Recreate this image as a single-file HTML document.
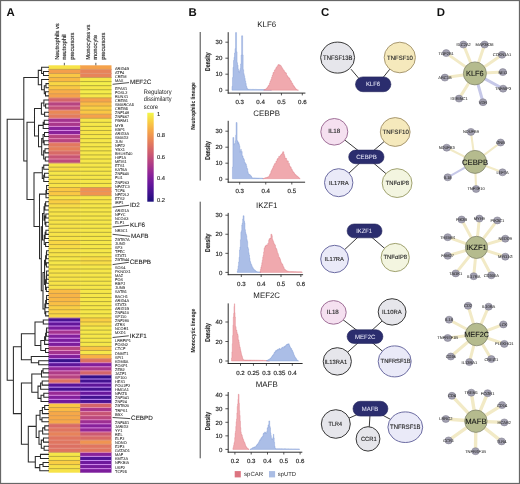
<!DOCTYPE html>
<html><head><meta charset="utf-8"><title>Figure</title>
<style>html,body{margin:0;padding:0;background:#fff;overflow:hidden;width:520px;height:484px;}svg{display:block;}
text{font-family:"Liberation Sans", sans-serif;text-rendering:geometricPrecision;}svg{will-change:transform;}</style></head>
<body><svg width="520" height="484" viewBox="0 0 520 484" font-family='"Liberation Sans", sans-serif'>
<rect x="0" y="0" width="520" height="484" fill="#fff"/>
<g id="heat">
<rect x="48.5" y="65.30" width="32.30" height="4.37" fill="#f7e348"/>
<rect x="80.2" y="65.30" width="31.30" height="4.37" fill="#f5a24b"/>
<rect x="48.5" y="69.37" width="32.30" height="4.37" fill="#f49f4c"/>
<rect x="80.2" y="69.37" width="31.30" height="4.37" fill="#e7835a"/>
<rect x="48.5" y="73.45" width="32.30" height="4.37" fill="#fac744"/>
<rect x="80.2" y="73.45" width="31.30" height="4.37" fill="#e7835a"/>
<rect x="48.5" y="77.52" width="32.30" height="4.37" fill="#f9b845"/>
<rect x="80.2" y="77.52" width="31.30" height="4.37" fill="#f6e749"/>
<rect x="48.5" y="81.60" width="32.30" height="4.37" fill="#f9d745"/>
<rect x="80.2" y="81.60" width="31.30" height="4.37" fill="#f4ef4b"/>
<rect x="48.5" y="85.67" width="32.30" height="4.37" fill="#fac744"/>
<rect x="80.2" y="85.67" width="31.30" height="4.37" fill="#f6e749"/>
<rect x="48.5" y="89.74" width="32.30" height="4.37" fill="#f8ad48"/>
<rect x="80.2" y="89.74" width="31.30" height="4.37" fill="#f5ec4b"/>
<rect x="48.5" y="93.82" width="32.30" height="4.37" fill="#f5a24b"/>
<rect x="80.2" y="93.82" width="31.30" height="4.37" fill="#f6e749"/>
<rect x="48.5" y="97.89" width="32.30" height="4.37" fill="#d4656a"/>
<rect x="80.2" y="97.89" width="31.30" height="4.37" fill="#f5a24b"/>
<rect x="48.5" y="101.97" width="32.30" height="4.37" fill="#b64481"/>
<rect x="80.2" y="101.97" width="31.30" height="4.37" fill="#fabb45"/>
<rect x="48.5" y="106.04" width="32.30" height="4.37" fill="#c35078"/>
<rect x="80.2" y="106.04" width="31.30" height="4.37" fill="#f9ce44"/>
<rect x="48.5" y="110.11" width="32.30" height="4.37" fill="#ea8856"/>
<rect x="80.2" y="110.11" width="31.30" height="4.37" fill="#fac744"/>
<rect x="48.5" y="114.19" width="32.30" height="4.37" fill="#e37b5d"/>
<rect x="80.2" y="114.19" width="31.30" height="4.37" fill="#f5a24b"/>
<rect x="48.5" y="118.26" width="32.30" height="4.37" fill="#a3338e"/>
<rect x="80.2" y="118.26" width="31.30" height="4.37" fill="#f6e749"/>
<rect x="48.5" y="122.34" width="32.30" height="4.37" fill="#a9378b"/>
<rect x="80.2" y="122.34" width="31.30" height="4.37" fill="#f6e749"/>
<rect x="48.5" y="126.41" width="32.30" height="4.37" fill="#89229a"/>
<rect x="80.2" y="126.41" width="31.30" height="4.37" fill="#f6e749"/>
<rect x="48.5" y="130.48" width="32.30" height="4.37" fill="#89229a"/>
<rect x="80.2" y="130.48" width="31.30" height="4.37" fill="#f7e348"/>
<rect x="48.5" y="134.56" width="32.30" height="4.37" fill="#b64481"/>
<rect x="80.2" y="134.56" width="31.30" height="4.37" fill="#f6e749"/>
<rect x="48.5" y="138.63" width="32.30" height="4.37" fill="#b64481"/>
<rect x="80.2" y="138.63" width="31.30" height="4.37" fill="#f6e749"/>
<rect x="48.5" y="142.71" width="32.30" height="4.37" fill="#e2795f"/>
<rect x="80.2" y="142.71" width="31.30" height="4.37" fill="#f6e749"/>
<rect x="48.5" y="146.78" width="32.30" height="4.37" fill="#e57f5b"/>
<rect x="80.2" y="146.78" width="31.30" height="4.37" fill="#f6e749"/>
<rect x="48.5" y="150.85" width="32.30" height="4.37" fill="#d86a67"/>
<rect x="80.2" y="150.85" width="31.30" height="4.37" fill="#f6e749"/>
<rect x="48.5" y="154.93" width="32.30" height="4.37" fill="#c75574"/>
<rect x="80.2" y="154.93" width="31.30" height="4.37" fill="#f6e749"/>
<rect x="48.5" y="159.00" width="32.30" height="4.37" fill="#bd4b7c"/>
<rect x="80.2" y="159.00" width="31.30" height="4.37" fill="#f6e749"/>
<rect x="48.5" y="163.08" width="32.30" height="4.37" fill="#f7e348"/>
<rect x="80.2" y="163.08" width="31.30" height="4.37" fill="#f6e749"/>
<rect x="48.5" y="167.15" width="32.30" height="4.37" fill="#f8dc46"/>
<rect x="80.2" y="167.15" width="31.30" height="4.37" fill="#f6e749"/>
<rect x="48.5" y="171.22" width="32.30" height="4.37" fill="#f6e749"/>
<rect x="80.2" y="171.22" width="31.30" height="4.37" fill="#f6e749"/>
<rect x="48.5" y="175.30" width="32.30" height="4.37" fill="#f7e348"/>
<rect x="80.2" y="175.30" width="31.30" height="4.37" fill="#f6e749"/>
<rect x="48.5" y="179.37" width="32.30" height="4.37" fill="#f7df47"/>
<rect x="80.2" y="179.37" width="31.30" height="4.37" fill="#f6e749"/>
<rect x="48.5" y="183.45" width="32.30" height="4.37" fill="#f7e348"/>
<rect x="80.2" y="183.45" width="31.30" height="4.37" fill="#f6e749"/>
<rect x="48.5" y="187.52" width="32.30" height="4.37" fill="#fac744"/>
<rect x="80.2" y="187.52" width="31.30" height="4.37" fill="#ef9152"/>
<rect x="48.5" y="191.59" width="32.30" height="4.37" fill="#fac744"/>
<rect x="80.2" y="191.59" width="31.30" height="4.37" fill="#f09451"/>
<rect x="48.5" y="195.67" width="32.30" height="4.37" fill="#f7e348"/>
<rect x="80.2" y="195.67" width="31.30" height="4.37" fill="#f6e749"/>
<rect x="48.5" y="199.74" width="32.30" height="4.37" fill="#f9ce44"/>
<rect x="80.2" y="199.74" width="31.30" height="4.37" fill="#f7e348"/>
<rect x="48.5" y="203.82" width="32.30" height="4.37" fill="#f8dc46"/>
<rect x="80.2" y="203.82" width="31.30" height="4.37" fill="#f6e749"/>
<rect x="48.5" y="207.89" width="32.30" height="4.37" fill="#f7e348"/>
<rect x="80.2" y="207.89" width="31.30" height="4.37" fill="#f6e749"/>
<rect x="48.5" y="211.96" width="32.30" height="4.37" fill="#f7e348"/>
<rect x="80.2" y="211.96" width="31.30" height="4.37" fill="#f6e749"/>
<rect x="48.5" y="216.04" width="32.30" height="4.37" fill="#f7e348"/>
<rect x="80.2" y="216.04" width="31.30" height="4.37" fill="#f6e749"/>
<rect x="48.5" y="220.11" width="32.30" height="4.37" fill="#f7e348"/>
<rect x="80.2" y="220.11" width="31.30" height="4.37" fill="#f6e749"/>
<rect x="48.5" y="224.19" width="32.30" height="4.37" fill="#f7e348"/>
<rect x="80.2" y="224.19" width="31.30" height="4.37" fill="#f6e749"/>
<rect x="48.5" y="228.26" width="32.30" height="4.37" fill="#f7e348"/>
<rect x="80.2" y="228.26" width="31.30" height="4.37" fill="#f6e749"/>
<rect x="48.5" y="232.33" width="32.30" height="4.37" fill="#f7e348"/>
<rect x="80.2" y="232.33" width="31.30" height="4.37" fill="#f6e749"/>
<rect x="48.5" y="236.41" width="32.30" height="4.37" fill="#f7e348"/>
<rect x="80.2" y="236.41" width="31.30" height="4.37" fill="#f6e749"/>
<rect x="48.5" y="240.48" width="32.30" height="4.37" fill="#f9d745"/>
<rect x="80.2" y="240.48" width="31.30" height="4.37" fill="#f6e749"/>
<rect x="48.5" y="244.56" width="32.30" height="4.37" fill="#f8dc46"/>
<rect x="80.2" y="244.56" width="31.30" height="4.37" fill="#f6e749"/>
<rect x="48.5" y="248.63" width="32.30" height="4.37" fill="#f7e348"/>
<rect x="80.2" y="248.63" width="31.30" height="4.37" fill="#f6e749"/>
<rect x="48.5" y="252.70" width="32.30" height="4.37" fill="#f7e348"/>
<rect x="80.2" y="252.70" width="31.30" height="4.37" fill="#f6e749"/>
<rect x="48.5" y="256.78" width="32.30" height="4.37" fill="#f6e749"/>
<rect x="80.2" y="256.78" width="31.30" height="4.37" fill="#f8dd47"/>
<rect x="48.5" y="260.85" width="32.30" height="4.37" fill="#f6e749"/>
<rect x="80.2" y="260.85" width="31.30" height="4.37" fill="#f8dd47"/>
<rect x="48.5" y="264.93" width="32.30" height="4.37" fill="#f7e348"/>
<rect x="80.2" y="264.93" width="31.30" height="4.37" fill="#f6e749"/>
<rect x="48.5" y="269.00" width="32.30" height="4.37" fill="#f7e348"/>
<rect x="80.2" y="269.00" width="31.30" height="4.37" fill="#f6e749"/>
<rect x="48.5" y="273.07" width="32.30" height="4.37" fill="#f7e348"/>
<rect x="80.2" y="273.07" width="31.30" height="4.37" fill="#f6e749"/>
<rect x="48.5" y="277.15" width="32.30" height="4.37" fill="#f7e348"/>
<rect x="80.2" y="277.15" width="31.30" height="4.37" fill="#f6e749"/>
<rect x="48.5" y="281.22" width="32.30" height="4.37" fill="#f7e348"/>
<rect x="80.2" y="281.22" width="31.30" height="4.37" fill="#f6e749"/>
<rect x="48.5" y="285.30" width="32.30" height="4.37" fill="#f7e348"/>
<rect x="80.2" y="285.30" width="31.30" height="4.37" fill="#f6e749"/>
<rect x="48.5" y="289.37" width="32.30" height="4.37" fill="#fabb45"/>
<rect x="80.2" y="289.37" width="31.30" height="4.37" fill="#f6e749"/>
<rect x="48.5" y="293.44" width="32.30" height="4.37" fill="#f8b446"/>
<rect x="80.2" y="293.44" width="31.30" height="4.37" fill="#f6e749"/>
<rect x="48.5" y="297.52" width="32.30" height="4.37" fill="#f9b845"/>
<rect x="80.2" y="297.52" width="31.30" height="4.37" fill="#f6e749"/>
<rect x="48.5" y="301.59" width="32.30" height="4.37" fill="#fabf45"/>
<rect x="80.2" y="301.59" width="31.30" height="4.37" fill="#f6e749"/>
<rect x="48.5" y="305.67" width="32.30" height="4.37" fill="#f9ce44"/>
<rect x="80.2" y="305.67" width="31.30" height="4.37" fill="#f6e749"/>
<rect x="48.5" y="309.74" width="32.30" height="4.37" fill="#fad245"/>
<rect x="80.2" y="309.74" width="31.30" height="4.37" fill="#f6e749"/>
<rect x="48.5" y="313.81" width="32.30" height="4.37" fill="#f9d745"/>
<rect x="80.2" y="313.81" width="31.30" height="4.37" fill="#f6e749"/>
<rect x="48.5" y="317.89" width="32.30" height="4.37" fill="#4a1393"/>
<rect x="80.2" y="317.89" width="31.30" height="4.37" fill="#f9ce44"/>
<rect x="48.5" y="321.96" width="32.30" height="4.37" fill="#61159a"/>
<rect x="80.2" y="321.96" width="31.30" height="4.37" fill="#f8dc46"/>
<rect x="48.5" y="326.04" width="32.30" height="4.37" fill="#791c9d"/>
<rect x="80.2" y="326.04" width="31.30" height="4.37" fill="#f6e749"/>
<rect x="48.5" y="330.11" width="32.30" height="4.37" fill="#a3338e"/>
<rect x="80.2" y="330.11" width="31.30" height="4.37" fill="#f6e749"/>
<rect x="48.5" y="334.18" width="32.30" height="4.37" fill="#821f9c"/>
<rect x="80.2" y="334.18" width="31.30" height="4.37" fill="#f6e749"/>
<rect x="48.5" y="338.26" width="32.30" height="4.37" fill="#791c9d"/>
<rect x="80.2" y="338.26" width="31.30" height="4.37" fill="#f6e749"/>
<rect x="48.5" y="342.33" width="32.30" height="4.37" fill="#7c1d9c"/>
<rect x="80.2" y="342.33" width="31.30" height="4.37" fill="#f6e749"/>
<rect x="48.5" y="346.41" width="32.30" height="4.37" fill="#b64481"/>
<rect x="80.2" y="346.41" width="31.30" height="4.37" fill="#f9c345"/>
<rect x="48.5" y="350.48" width="32.30" height="4.37" fill="#a3338e"/>
<rect x="80.2" y="350.48" width="31.30" height="4.37" fill="#f6e749"/>
<rect x="48.5" y="354.55" width="32.30" height="4.37" fill="#811e9b"/>
<rect x="80.2" y="354.55" width="31.30" height="4.37" fill="#f8b047"/>
<rect x="48.5" y="358.63" width="32.30" height="4.37" fill="#37118a"/>
<rect x="80.2" y="358.63" width="31.30" height="4.37" fill="#dc7063"/>
<rect x="48.5" y="362.70" width="32.30" height="4.37" fill="#5d1599"/>
<rect x="80.2" y="362.70" width="31.30" height="4.37" fill="#821f9c"/>
<rect x="48.5" y="366.78" width="32.30" height="4.37" fill="#8f2698"/>
<rect x="80.2" y="366.78" width="31.30" height="4.37" fill="#a9378b"/>
<rect x="48.5" y="370.85" width="32.30" height="4.37" fill="#ae3c87"/>
<rect x="80.2" y="370.85" width="31.30" height="4.37" fill="#d4656a"/>
<rect x="48.5" y="374.92" width="32.30" height="4.37" fill="#b64481"/>
<rect x="80.2" y="374.92" width="31.30" height="4.37" fill="#341089"/>
<rect x="48.5" y="379.00" width="32.30" height="4.37" fill="#df7462"/>
<rect x="80.2" y="379.00" width="31.30" height="4.37" fill="#431290"/>
<rect x="48.5" y="383.07" width="32.30" height="4.37" fill="#581498"/>
<rect x="80.2" y="383.07" width="31.30" height="4.37" fill="#5d1599"/>
<rect x="48.5" y="387.15" width="32.30" height="4.37" fill="#431290"/>
<rect x="80.2" y="387.15" width="31.30" height="4.37" fill="#431290"/>
<rect x="48.5" y="391.22" width="32.30" height="4.37" fill="#972a95"/>
<rect x="80.2" y="391.22" width="31.30" height="4.37" fill="#67179c"/>
<rect x="48.5" y="395.29" width="32.30" height="4.37" fill="#821f9c"/>
<rect x="80.2" y="395.29" width="31.30" height="4.37" fill="#431290"/>
<rect x="48.5" y="399.37" width="32.30" height="4.37" fill="#71199c"/>
<rect x="80.2" y="399.37" width="31.30" height="4.37" fill="#4a1393"/>
<rect x="48.5" y="403.44" width="32.30" height="4.37" fill="#fac744"/>
<rect x="80.2" y="403.44" width="31.30" height="4.37" fill="#d4656a"/>
<rect x="48.5" y="407.52" width="32.30" height="4.37" fill="#fabb45"/>
<rect x="80.2" y="407.52" width="31.30" height="4.37" fill="#a9378b"/>
<rect x="48.5" y="411.59" width="32.30" height="4.37" fill="#f6a849"/>
<rect x="80.2" y="411.59" width="31.30" height="4.37" fill="#c75574"/>
<rect x="48.5" y="415.66" width="32.30" height="4.37" fill="#f6a849"/>
<rect x="80.2" y="415.66" width="31.30" height="4.37" fill="#bb487d"/>
<rect x="48.5" y="419.74" width="32.30" height="4.37" fill="#f6a849"/>
<rect x="80.2" y="419.74" width="31.30" height="4.37" fill="#9d2f92"/>
<rect x="48.5" y="423.81" width="32.30" height="4.37" fill="#d86a67"/>
<rect x="80.2" y="423.81" width="31.30" height="4.37" fill="#87219b"/>
<rect x="48.5" y="427.89" width="32.30" height="4.37" fill="#e07560"/>
<rect x="80.2" y="427.89" width="31.30" height="4.37" fill="#932896"/>
<rect x="48.5" y="431.96" width="32.30" height="4.37" fill="#e7835a"/>
<rect x="80.2" y="431.96" width="31.30" height="4.37" fill="#cc5b71"/>
<rect x="48.5" y="436.03" width="32.30" height="4.37" fill="#e07560"/>
<rect x="80.2" y="436.03" width="31.30" height="4.37" fill="#d86a67"/>
<rect x="48.5" y="440.11" width="32.30" height="4.37" fill="#e07560"/>
<rect x="80.2" y="440.11" width="31.30" height="4.37" fill="#f09451"/>
<rect x="48.5" y="444.18" width="32.30" height="4.37" fill="#dc7063"/>
<rect x="80.2" y="444.18" width="31.30" height="4.37" fill="#e07560"/>
<rect x="48.5" y="448.26" width="32.30" height="4.37" fill="#df7462"/>
<rect x="80.2" y="448.26" width="31.30" height="4.37" fill="#e07560"/>
<rect x="48.5" y="452.33" width="32.30" height="4.37" fill="#f6e749"/>
<rect x="80.2" y="452.33" width="31.30" height="4.37" fill="#89229a"/>
<rect x="48.5" y="456.40" width="32.30" height="4.37" fill="#f7e348"/>
<rect x="80.2" y="456.40" width="31.30" height="4.37" fill="#511396"/>
<rect x="48.5" y="460.48" width="32.30" height="4.37" fill="#f9ce44"/>
<rect x="80.2" y="460.48" width="31.30" height="4.37" fill="#6e199c"/>
<rect x="48.5" y="464.55" width="32.30" height="4.37" fill="#f7df47"/>
<rect x="80.2" y="464.55" width="31.30" height="4.37" fill="#761b9c"/>
<rect x="48.5" y="468.63" width="32.30" height="4.07" fill="#f7e348"/>
<rect x="80.2" y="468.63" width="31.30" height="4.07" fill="#7c1d9c"/>
<line x1="48.50" y1="69.37" x2="80.20" y2="69.37" stroke="#c8a04c" stroke-width="1.0" />
<line x1="80.20" y1="69.37" x2="111.50" y2="69.37" stroke="#dd9666" stroke-width="1.0" />
<line x1="48.50" y1="73.45" x2="80.20" y2="73.45" stroke="#d09c51" stroke-width="1.0" />
<line x1="80.20" y1="73.45" x2="111.50" y2="73.45" stroke="#e19373" stroke-width="1.0" />
<line x1="48.50" y1="77.52" x2="80.20" y2="77.52" stroke="#cb9f49" stroke-width="1.0" />
<line x1="80.20" y1="77.52" x2="111.50" y2="77.52" stroke="#cb9e58" stroke-width="1.0" />
<line x1="48.50" y1="81.60" x2="80.20" y2="81.60" stroke="#c6a146" stroke-width="1.0" />
<line x1="80.20" y1="81.60" x2="111.50" y2="81.60" stroke="#b1a939" stroke-width="1.0" />
<line x1="48.50" y1="85.67" x2="80.20" y2="85.67" stroke="#c3a342" stroke-width="1.0" />
<line x1="80.20" y1="85.67" x2="111.50" y2="85.67" stroke="#b1a939" stroke-width="1.0" />
<line x1="48.50" y1="89.74" x2="80.20" y2="89.74" stroke="#ce9e4c" stroke-width="1.0" />
<line x1="80.20" y1="89.74" x2="111.50" y2="89.74" stroke="#b2a93a" stroke-width="1.0" />
<line x1="48.50" y1="93.82" x2="80.20" y2="93.82" stroke="#d69a56" stroke-width="1.0" />
<line x1="80.20" y1="93.82" x2="111.50" y2="93.82" stroke="#b2a93a" stroke-width="1.0" />
<line x1="48.50" y1="97.89" x2="80.20" y2="97.89" stroke="#df9375" stroke-width="1.0" />
<line x1="80.20" y1="97.89" x2="111.50" y2="97.89" stroke="#c6a14b" stroke-width="1.0" />
<line x1="48.50" y1="101.97" x2="80.20" y2="101.97" stroke="#e48ca2" stroke-width="1.0" />
<line x1="80.20" y1="101.97" x2="111.50" y2="101.97" stroke="#d39b52" stroke-width="1.0" />
<line x1="48.50" y1="106.04" x2="80.20" y2="106.04" stroke="#e48bad" stroke-width="1.0" />
<line x1="80.20" y1="106.04" x2="111.50" y2="106.04" stroke="#c8a047" stroke-width="1.0" />
<line x1="48.50" y1="110.11" x2="80.20" y2="110.11" stroke="#e38f8a" stroke-width="1.0" />
<line x1="80.20" y1="110.11" x2="111.50" y2="110.11" stroke="#c5a244" stroke-width="1.0" />
<line x1="48.50" y1="114.19" x2="80.20" y2="114.19" stroke="#e19273" stroke-width="1.0" />
<line x1="80.20" y1="114.19" x2="111.50" y2="114.19" stroke="#d09d50" stroke-width="1.0" />
<line x1="48.50" y1="118.26" x2="80.20" y2="118.26" stroke="#e38da2" stroke-width="1.0" />
<line x1="80.20" y1="118.26" x2="111.50" y2="118.26" stroke="#c6a14b" stroke-width="1.0" />
<line x1="48.50" y1="122.34" x2="80.20" y2="122.34" stroke="#e089c8" stroke-width="1.0" />
<line x1="80.20" y1="122.34" x2="111.50" y2="122.34" stroke="#b3a83a" stroke-width="1.0" />
<line x1="48.50" y1="126.41" x2="80.20" y2="126.41" stroke="#dc8ad3" stroke-width="1.0" />
<line x1="80.20" y1="126.41" x2="111.50" y2="126.41" stroke="#b3a83a" stroke-width="1.0" />
<line x1="48.50" y1="130.48" x2="80.20" y2="130.48" stroke="#d78ae1" stroke-width="1.0" />
<line x1="80.20" y1="130.48" x2="111.50" y2="130.48" stroke="#b5a83b" stroke-width="1.0" />
<line x1="48.50" y1="134.56" x2="80.20" y2="134.56" stroke="#de8acb" stroke-width="1.0" />
<line x1="80.20" y1="134.56" x2="111.50" y2="134.56" stroke="#b5a83b" stroke-width="1.0" />
<line x1="48.50" y1="138.63" x2="80.20" y2="138.63" stroke="#e38bb5" stroke-width="1.0" />
<line x1="80.20" y1="138.63" x2="111.50" y2="138.63" stroke="#b3a83a" stroke-width="1.0" />
<line x1="48.50" y1="142.71" x2="80.20" y2="142.71" stroke="#e48e98" stroke-width="1.0" />
<line x1="80.20" y1="142.71" x2="111.50" y2="142.71" stroke="#b3a83a" stroke-width="1.0" />
<line x1="48.50" y1="146.78" x2="80.20" y2="146.78" stroke="#e29178" stroke-width="1.0" />
<line x1="80.20" y1="146.78" x2="111.50" y2="146.78" stroke="#b3a83a" stroke-width="1.0" />
<line x1="48.50" y1="150.85" x2="80.20" y2="150.85" stroke="#e39080" stroke-width="1.0" />
<line x1="80.20" y1="150.85" x2="111.50" y2="150.85" stroke="#b3a83a" stroke-width="1.0" />
<line x1="48.50" y1="154.93" x2="80.20" y2="154.93" stroke="#e58d95" stroke-width="1.0" />
<line x1="80.20" y1="154.93" x2="111.50" y2="154.93" stroke="#b3a83a" stroke-width="1.0" />
<line x1="48.50" y1="159.00" x2="80.20" y2="159.00" stroke="#e48ca6" stroke-width="1.0" />
<line x1="80.20" y1="159.00" x2="111.50" y2="159.00" stroke="#b3a83a" stroke-width="1.0" />
<line x1="48.50" y1="163.08" x2="80.20" y2="163.08" stroke="#d09b77" stroke-width="1.0" />
<line x1="80.20" y1="163.08" x2="111.50" y2="163.08" stroke="#b3a83a" stroke-width="1.0" />
<line x1="48.50" y1="167.15" x2="80.20" y2="167.15" stroke="#b8a63c" stroke-width="1.0" />
<line x1="80.20" y1="167.15" x2="111.50" y2="167.15" stroke="#b3a83a" stroke-width="1.0" />
<line x1="48.50" y1="171.22" x2="80.20" y2="171.22" stroke="#b7a73c" stroke-width="1.0" />
<line x1="80.20" y1="171.22" x2="111.50" y2="171.22" stroke="#b3a83a" stroke-width="1.0" />
<line x1="48.50" y1="175.30" x2="80.20" y2="175.30" stroke="#b5a83b" stroke-width="1.0" />
<line x1="80.20" y1="175.30" x2="111.50" y2="175.30" stroke="#b3a83a" stroke-width="1.0" />
<line x1="48.50" y1="179.37" x2="80.20" y2="179.37" stroke="#b7a73c" stroke-width="1.0" />
<line x1="80.20" y1="179.37" x2="111.50" y2="179.37" stroke="#b3a83a" stroke-width="1.0" />
<line x1="48.50" y1="183.45" x2="80.20" y2="183.45" stroke="#b7a73c" stroke-width="1.0" />
<line x1="80.20" y1="183.45" x2="111.50" y2="183.45" stroke="#b3a83a" stroke-width="1.0" />
<line x1="48.50" y1="187.52" x2="80.20" y2="187.52" stroke="#bfa440" stroke-width="1.0" />
<line x1="80.20" y1="187.52" x2="111.50" y2="187.52" stroke="#c99f52" stroke-width="1.0" />
<line x1="48.50" y1="191.59" x2="80.20" y2="191.59" stroke="#c7a145" stroke-width="1.0" />
<line x1="80.20" y1="191.59" x2="111.50" y2="191.59" stroke="#de9565" stroke-width="1.0" />
<line x1="48.50" y1="195.67" x2="80.20" y2="195.67" stroke="#bfa440" stroke-width="1.0" />
<line x1="80.20" y1="195.67" x2="111.50" y2="195.67" stroke="#c9a050" stroke-width="1.0" />
<line x1="48.50" y1="199.74" x2="80.20" y2="199.74" stroke="#bda53f" stroke-width="1.0" />
<line x1="80.20" y1="199.74" x2="111.50" y2="199.74" stroke="#b5a83b" stroke-width="1.0" />
<line x1="48.50" y1="203.82" x2="80.20" y2="203.82" stroke="#bfa440" stroke-width="1.0" />
<line x1="80.20" y1="203.82" x2="111.50" y2="203.82" stroke="#b5a83b" stroke-width="1.0" />
<line x1="48.50" y1="207.89" x2="80.20" y2="207.89" stroke="#b8a63c" stroke-width="1.0" />
<line x1="80.20" y1="207.89" x2="111.50" y2="207.89" stroke="#b3a83a" stroke-width="1.0" />
<line x1="48.50" y1="211.96" x2="80.20" y2="211.96" stroke="#b6a73b" stroke-width="1.0" />
<line x1="80.20" y1="211.96" x2="111.50" y2="211.96" stroke="#b3a83a" stroke-width="1.0" />
<line x1="48.50" y1="216.04" x2="80.20" y2="216.04" stroke="#b6a73b" stroke-width="1.0" />
<line x1="80.20" y1="216.04" x2="111.50" y2="216.04" stroke="#b3a83a" stroke-width="1.0" />
<line x1="48.50" y1="220.11" x2="80.20" y2="220.11" stroke="#b6a73b" stroke-width="1.0" />
<line x1="80.20" y1="220.11" x2="111.50" y2="220.11" stroke="#b3a83a" stroke-width="1.0" />
<line x1="48.50" y1="224.19" x2="80.20" y2="224.19" stroke="#b6a73b" stroke-width="1.0" />
<line x1="80.20" y1="224.19" x2="111.50" y2="224.19" stroke="#b3a83a" stroke-width="1.0" />
<line x1="48.50" y1="228.26" x2="80.20" y2="228.26" stroke="#b6a73b" stroke-width="1.0" />
<line x1="80.20" y1="228.26" x2="111.50" y2="228.26" stroke="#b3a83a" stroke-width="1.0" />
<line x1="48.50" y1="232.33" x2="80.20" y2="232.33" stroke="#b6a73b" stroke-width="1.0" />
<line x1="80.20" y1="232.33" x2="111.50" y2="232.33" stroke="#b3a83a" stroke-width="1.0" />
<line x1="48.50" y1="236.41" x2="80.20" y2="236.41" stroke="#b6a73b" stroke-width="1.0" />
<line x1="80.20" y1="236.41" x2="111.50" y2="236.41" stroke="#b3a83a" stroke-width="1.0" />
<line x1="48.50" y1="240.48" x2="80.20" y2="240.48" stroke="#baa63d" stroke-width="1.0" />
<line x1="80.20" y1="240.48" x2="111.50" y2="240.48" stroke="#b3a83a" stroke-width="1.0" />
<line x1="48.50" y1="244.56" x2="80.20" y2="244.56" stroke="#bca53e" stroke-width="1.0" />
<line x1="80.20" y1="244.56" x2="111.50" y2="244.56" stroke="#b3a83a" stroke-width="1.0" />
<line x1="48.50" y1="248.63" x2="80.20" y2="248.63" stroke="#b8a63c" stroke-width="1.0" />
<line x1="80.20" y1="248.63" x2="111.50" y2="248.63" stroke="#b3a83a" stroke-width="1.0" />
<line x1="48.50" y1="252.70" x2="80.20" y2="252.70" stroke="#b6a73b" stroke-width="1.0" />
<line x1="80.20" y1="252.70" x2="111.50" y2="252.70" stroke="#b3a83a" stroke-width="1.0" />
<line x1="48.50" y1="256.78" x2="80.20" y2="256.78" stroke="#b5a83b" stroke-width="1.0" />
<line x1="80.20" y1="256.78" x2="111.50" y2="256.78" stroke="#b7a73c" stroke-width="1.0" />
<line x1="48.50" y1="260.85" x2="80.20" y2="260.85" stroke="#b3a83a" stroke-width="1.0" />
<line x1="80.20" y1="260.85" x2="111.50" y2="260.85" stroke="#baa63d" stroke-width="1.0" />
<line x1="48.50" y1="264.93" x2="80.20" y2="264.93" stroke="#b5a83b" stroke-width="1.0" />
<line x1="80.20" y1="264.93" x2="111.50" y2="264.93" stroke="#b7a73c" stroke-width="1.0" />
<line x1="48.50" y1="269.00" x2="80.20" y2="269.00" stroke="#b6a73b" stroke-width="1.0" />
<line x1="80.20" y1="269.00" x2="111.50" y2="269.00" stroke="#b3a83a" stroke-width="1.0" />
<line x1="48.50" y1="273.07" x2="80.20" y2="273.07" stroke="#b6a73b" stroke-width="1.0" />
<line x1="80.20" y1="273.07" x2="111.50" y2="273.07" stroke="#b3a83a" stroke-width="1.0" />
<line x1="48.50" y1="277.15" x2="80.20" y2="277.15" stroke="#b6a73b" stroke-width="1.0" />
<line x1="80.20" y1="277.15" x2="111.50" y2="277.15" stroke="#b3a83a" stroke-width="1.0" />
<line x1="48.50" y1="281.22" x2="80.20" y2="281.22" stroke="#b6a73b" stroke-width="1.0" />
<line x1="80.20" y1="281.22" x2="111.50" y2="281.22" stroke="#b3a83a" stroke-width="1.0" />
<line x1="48.50" y1="285.30" x2="80.20" y2="285.30" stroke="#b6a73b" stroke-width="1.0" />
<line x1="80.20" y1="285.30" x2="111.50" y2="285.30" stroke="#b3a83a" stroke-width="1.0" />
<line x1="48.50" y1="289.37" x2="80.20" y2="289.37" stroke="#c2a343" stroke-width="1.0" />
<line x1="80.20" y1="289.37" x2="111.50" y2="289.37" stroke="#b3a83a" stroke-width="1.0" />
<line x1="48.50" y1="293.44" x2="80.20" y2="293.44" stroke="#cf9d4d" stroke-width="1.0" />
<line x1="80.20" y1="293.44" x2="111.50" y2="293.44" stroke="#b3a83a" stroke-width="1.0" />
<line x1="48.50" y1="297.52" x2="80.20" y2="297.52" stroke="#d09d4d" stroke-width="1.0" />
<line x1="80.20" y1="297.52" x2="111.50" y2="297.52" stroke="#b3a83a" stroke-width="1.0" />
<line x1="48.50" y1="301.59" x2="80.20" y2="301.59" stroke="#cd9e4b" stroke-width="1.0" />
<line x1="80.20" y1="301.59" x2="111.50" y2="301.59" stroke="#b3a83a" stroke-width="1.0" />
<line x1="48.50" y1="305.67" x2="80.20" y2="305.67" stroke="#c7a146" stroke-width="1.0" />
<line x1="80.20" y1="305.67" x2="111.50" y2="305.67" stroke="#b3a83a" stroke-width="1.0" />
<line x1="48.50" y1="309.74" x2="80.20" y2="309.74" stroke="#c2a342" stroke-width="1.0" />
<line x1="80.20" y1="309.74" x2="111.50" y2="309.74" stroke="#b3a83a" stroke-width="1.0" />
<line x1="48.50" y1="313.81" x2="80.20" y2="313.81" stroke="#c0a440" stroke-width="1.0" />
<line x1="80.20" y1="313.81" x2="111.50" y2="313.81" stroke="#b3a83a" stroke-width="1.0" />
<line x1="48.50" y1="317.89" x2="80.20" y2="317.89" stroke="#c99a9d" stroke-width="1.0" />
<line x1="80.20" y1="317.89" x2="111.50" y2="317.89" stroke="#bba53e" stroke-width="1.0" />
<line x1="48.50" y1="321.96" x2="80.20" y2="321.96" stroke="#c68ef4" stroke-width="1.0" />
<line x1="80.20" y1="321.96" x2="111.50" y2="321.96" stroke="#bfa440" stroke-width="1.0" />
<line x1="48.50" y1="326.04" x2="80.20" y2="326.04" stroke="#ce8cee" stroke-width="1.0" />
<line x1="80.20" y1="326.04" x2="111.50" y2="326.04" stroke="#b7a73c" stroke-width="1.0" />
<line x1="48.50" y1="330.11" x2="80.20" y2="330.11" stroke="#d98ada" stroke-width="1.0" />
<line x1="80.20" y1="330.11" x2="111.50" y2="330.11" stroke="#b3a83a" stroke-width="1.0" />
<line x1="48.50" y1="334.18" x2="80.20" y2="334.18" stroke="#da8ad8" stroke-width="1.0" />
<line x1="80.20" y1="334.18" x2="111.50" y2="334.18" stroke="#b3a83a" stroke-width="1.0" />
<line x1="48.50" y1="338.26" x2="80.20" y2="338.26" stroke="#d38ae8" stroke-width="1.0" />
<line x1="80.20" y1="338.26" x2="111.50" y2="338.26" stroke="#b3a83a" stroke-width="1.0" />
<line x1="48.50" y1="342.33" x2="80.20" y2="342.33" stroke="#d28be9" stroke-width="1.0" />
<line x1="80.20" y1="342.33" x2="111.50" y2="342.33" stroke="#b3a83a" stroke-width="1.0" />
<line x1="48.50" y1="346.41" x2="80.20" y2="346.41" stroke="#dc8ace" stroke-width="1.0" />
<line x1="80.20" y1="346.41" x2="111.50" y2="346.41" stroke="#bea441" stroke-width="1.0" />
<line x1="48.50" y1="350.48" x2="80.20" y2="350.48" stroke="#e18ac0" stroke-width="1.0" />
<line x1="80.20" y1="350.48" x2="111.50" y2="350.48" stroke="#bea441" stroke-width="1.0" />
<line x1="48.50" y1="354.55" x2="80.20" y2="354.55" stroke="#da8ad8" stroke-width="1.0" />
<line x1="80.20" y1="354.55" x2="111.50" y2="354.55" stroke="#c3a246" stroke-width="1.0" />
<line x1="48.50" y1="358.63" x2="80.20" y2="358.63" stroke="#c98eee" stroke-width="1.0" />
<line x1="80.20" y1="358.63" x2="111.50" y2="358.63" stroke="#dc966b" stroke-width="1.0" />
<line x1="48.50" y1="362.70" x2="80.20" y2="362.70" stroke="#c290f4" stroke-width="1.0" />
<line x1="80.20" y1="362.70" x2="111.50" y2="362.70" stroke="#e08cb4" stroke-width="1.0" />
<line x1="48.50" y1="366.78" x2="80.20" y2="366.78" stroke="#d18ce7" stroke-width="1.0" />
<line x1="80.20" y1="366.78" x2="111.50" y2="366.78" stroke="#db8ad5" stroke-width="1.0" />
<line x1="48.50" y1="370.85" x2="80.20" y2="370.85" stroke="#de8acd" stroke-width="1.0" />
<line x1="80.20" y1="370.85" x2="111.50" y2="370.85" stroke="#e48caa" stroke-width="1.0" />
<line x1="48.50" y1="374.92" x2="80.20" y2="374.92" stroke="#e28aba" stroke-width="1.0" />
<line x1="80.20" y1="374.92" x2="111.50" y2="374.92" stroke="#d590c2" stroke-width="1.0" />
<line x1="48.50" y1="379.00" x2="80.20" y2="379.00" stroke="#e48d9b" stroke-width="1.0" />
<line x1="80.20" y1="379.00" x2="111.50" y2="379.00" stroke="#bd92f6" stroke-width="1.0" />
<line x1="48.50" y1="383.07" x2="80.20" y2="383.07" stroke="#da8eba" stroke-width="1.0" />
<line x1="80.20" y1="383.07" x2="111.50" y2="383.07" stroke="#c48ff4" stroke-width="1.0" />
<line x1="48.50" y1="387.15" x2="80.20" y2="387.15" stroke="#c38ff5" stroke-width="1.0" />
<line x1="80.20" y1="387.15" x2="111.50" y2="387.15" stroke="#c48ff4" stroke-width="1.0" />
<line x1="48.50" y1="391.22" x2="80.20" y2="391.22" stroke="#cf8de6" stroke-width="1.0" />
<line x1="80.20" y1="391.22" x2="111.50" y2="391.22" stroke="#c68ff3" stroke-width="1.0" />
<line x1="48.50" y1="395.29" x2="80.20" y2="395.29" stroke="#d88ade" stroke-width="1.0" />
<line x1="80.20" y1="395.29" x2="111.50" y2="395.29" stroke="#c68ff3" stroke-width="1.0" />
<line x1="48.50" y1="399.37" x2="80.20" y2="399.37" stroke="#d28be9" stroke-width="1.0" />
<line x1="80.20" y1="399.37" x2="111.50" y2="399.37" stroke="#c190f6" stroke-width="1.0" />
<line x1="48.50" y1="403.44" x2="80.20" y2="403.44" stroke="#d2969b" stroke-width="1.0" />
<line x1="80.20" y1="403.44" x2="111.50" y2="403.44" stroke="#d88ec2" stroke-width="1.0" />
<line x1="48.50" y1="407.52" x2="80.20" y2="407.52" stroke="#ca9f48" stroke-width="1.0" />
<line x1="80.20" y1="407.52" x2="111.50" y2="407.52" stroke="#e48caa" stroke-width="1.0" />
<line x1="48.50" y1="411.59" x2="80.20" y2="411.59" stroke="#d29c50" stroke-width="1.0" />
<line x1="80.20" y1="411.59" x2="111.50" y2="411.59" stroke="#e38bb2" stroke-width="1.0" />
<line x1="48.50" y1="415.66" x2="80.20" y2="415.66" stroke="#d69a56" stroke-width="1.0" />
<line x1="80.20" y1="415.66" x2="111.50" y2="415.66" stroke="#e58ba7" stroke-width="1.0" />
<line x1="48.50" y1="419.74" x2="80.20" y2="419.74" stroke="#d69a56" stroke-width="1.0" />
<line x1="80.20" y1="419.74" x2="111.50" y2="419.74" stroke="#e18ac0" stroke-width="1.0" />
<line x1="48.50" y1="423.81" x2="80.20" y2="423.81" stroke="#de9470" stroke-width="1.0" />
<line x1="80.20" y1="423.81" x2="111.50" y2="423.81" stroke="#da8ad9" stroke-width="1.0" />
<line x1="48.50" y1="427.89" x2="80.20" y2="427.89" stroke="#e48f84" stroke-width="1.0" />
<line x1="80.20" y1="427.89" x2="111.50" y2="427.89" stroke="#d88ade" stroke-width="1.0" />
<line x1="48.50" y1="431.96" x2="80.20" y2="431.96" stroke="#e29178" stroke-width="1.0" />
<line x1="80.20" y1="431.96" x2="111.50" y2="431.96" stroke="#e18bb9" stroke-width="1.0" />
<line x1="48.50" y1="436.03" x2="80.20" y2="436.03" stroke="#e29178" stroke-width="1.0" />
<line x1="80.20" y1="436.03" x2="111.50" y2="436.03" stroke="#e58e92" stroke-width="1.0" />
<line x1="48.50" y1="440.11" x2="80.20" y2="440.11" stroke="#e4907e" stroke-width="1.0" />
<line x1="80.20" y1="440.11" x2="111.50" y2="440.11" stroke="#e19277" stroke-width="1.0" />
<line x1="48.50" y1="444.18" x2="80.20" y2="444.18" stroke="#e49081" stroke-width="1.0" />
<line x1="80.20" y1="444.18" x2="111.50" y2="444.18" stroke="#e19371" stroke-width="1.0" />
<line x1="48.50" y1="448.26" x2="80.20" y2="448.26" stroke="#e49082" stroke-width="1.0" />
<line x1="80.20" y1="448.26" x2="111.50" y2="448.26" stroke="#e4907e" stroke-width="1.0" />
<line x1="48.50" y1="452.33" x2="80.20" y2="452.33" stroke="#cd9d60" stroke-width="1.0" />
<line x1="80.20" y1="452.33" x2="111.50" y2="452.33" stroke="#e18daf" stroke-width="1.0" />
<line x1="48.50" y1="456.40" x2="80.20" y2="456.40" stroke="#b5a83b" stroke-width="1.0" />
<line x1="80.20" y1="456.40" x2="111.50" y2="456.40" stroke="#ce8ceb" stroke-width="1.0" />
<line x1="48.50" y1="460.48" x2="80.20" y2="460.48" stroke="#bda53f" stroke-width="1.0" />
<line x1="80.20" y1="460.48" x2="111.50" y2="460.48" stroke="#c98df2" stroke-width="1.0" />
<line x1="48.50" y1="464.55" x2="80.20" y2="464.55" stroke="#bea43f" stroke-width="1.0" />
<line x1="80.20" y1="464.55" x2="111.50" y2="464.55" stroke="#cf8bec" stroke-width="1.0" />
<line x1="48.50" y1="468.63" x2="80.20" y2="468.63" stroke="#b7a73c" stroke-width="1.0" />
<line x1="80.20" y1="468.63" x2="111.50" y2="468.63" stroke="#d28be9" stroke-width="1.0" />
</g>
<line x1="64.35" y1="62.80" x2="64.35" y2="65.30" stroke="#333" stroke-width="0.8" />
<line x1="95.85" y1="62.80" x2="95.85" y2="65.30" stroke="#333" stroke-width="0.8" />
<text transform="translate(58.90,59.8) rotate(-90)" font-size="5.75" fill="#1a1a1a" stroke="#1a1a1a" stroke-width="0.12">Neutrophils vs</text>
<text transform="translate(66.30,59.8) rotate(-90)" font-size="5.75" fill="#1a1a1a" stroke="#1a1a1a" stroke-width="0.12">neutrophil</text>
<text transform="translate(74.40,59.8) rotate(-90)" font-size="5.75" fill="#1a1a1a" stroke="#1a1a1a" stroke-width="0.12">precursors</text>
<text transform="translate(89.80,59.8) rotate(-90)" font-size="5.75" fill="#1a1a1a" stroke="#1a1a1a" stroke-width="0.12">Monocytes vs</text>
<text transform="translate(97.30,59.8) rotate(-90)" font-size="5.75" fill="#1a1a1a" stroke="#1a1a1a" stroke-width="0.12">monocyte</text>
<text transform="translate(104.70,59.8) rotate(-90)" font-size="5.75" fill="#1a1a1a" stroke="#1a1a1a" stroke-width="0.12">precursors</text>
<text x="115.00" y="69.50" font-size="3.9" text-anchor="start" fill="#2a2a2a" font-weight="normal"  stroke="#2a2a2a" stroke-width="0.05">ARID4B</text>
<text x="115.00" y="73.57" font-size="3.9" text-anchor="start" fill="#2a2a2a" font-weight="normal"  stroke="#2a2a2a" stroke-width="0.05">ATF4</text>
<text x="115.00" y="77.64" font-size="3.9" text-anchor="start" fill="#2a2a2a" font-weight="normal"  stroke="#2a2a2a" stroke-width="0.05">CREM</text>
<text x="115.00" y="81.72" font-size="3.9" text-anchor="start" fill="#2a2a2a" font-weight="normal"  stroke="#2a2a2a" stroke-width="0.05">MAX</text>
<text x="115.00" y="89.86" font-size="3.9" text-anchor="start" fill="#2a2a2a" font-weight="normal"  stroke="#2a2a2a" stroke-width="0.05">EPAS1</text>
<text x="115.00" y="93.93" font-size="3.9" text-anchor="start" fill="#2a2a2a" font-weight="normal"  stroke="#2a2a2a" stroke-width="0.05">FOSL2</text>
<text x="115.00" y="98.00" font-size="3.9" text-anchor="start" fill="#2a2a2a" font-weight="normal"  stroke="#2a2a2a" stroke-width="0.05">RUNX1</text>
<text x="115.00" y="102.08" font-size="3.9" text-anchor="start" fill="#2a2a2a" font-weight="normal"  stroke="#2a2a2a" stroke-width="0.05">CREB1</text>
<text x="115.00" y="106.15" font-size="3.9" text-anchor="start" fill="#2a2a2a" font-weight="normal"  stroke="#2a2a2a" stroke-width="0.05">SMARCA5</text>
<text x="115.00" y="110.22" font-size="3.9" text-anchor="start" fill="#2a2a2a" font-weight="normal"  stroke="#2a2a2a" stroke-width="0.05">CREB5</text>
<text x="115.00" y="114.29" font-size="3.9" text-anchor="start" fill="#2a2a2a" font-weight="normal"  stroke="#2a2a2a" stroke-width="0.05">ZNF148</text>
<text x="115.00" y="118.36" font-size="3.9" text-anchor="start" fill="#2a2a2a" font-weight="normal"  stroke="#2a2a2a" stroke-width="0.05">ZNF467</text>
<text x="115.00" y="122.44" font-size="3.9" text-anchor="start" fill="#2a2a2a" font-weight="normal"  stroke="#2a2a2a" stroke-width="0.05">PBRM1</text>
<text x="115.00" y="126.51" font-size="3.9" text-anchor="start" fill="#2a2a2a" font-weight="normal"  stroke="#2a2a2a" stroke-width="0.05">MYB</text>
<text x="115.00" y="130.58" font-size="3.9" text-anchor="start" fill="#2a2a2a" font-weight="normal"  stroke="#2a2a2a" stroke-width="0.05">KBP1</text>
<text x="115.00" y="134.65" font-size="3.9" text-anchor="start" fill="#2a2a2a" font-weight="normal"  stroke="#2a2a2a" stroke-width="0.05">ARID3A</text>
<text x="115.00" y="138.72" font-size="3.9" text-anchor="start" fill="#2a2a2a" font-weight="normal"  stroke="#2a2a2a" stroke-width="0.05">SMAD2</text>
<text x="115.00" y="142.80" font-size="3.9" text-anchor="start" fill="#2a2a2a" font-weight="normal"  stroke="#2a2a2a" stroke-width="0.05">JUN</text>
<text x="115.00" y="146.87" font-size="3.9" text-anchor="start" fill="#2a2a2a" font-weight="normal"  stroke="#2a2a2a" stroke-width="0.05">NFE2</text>
<text x="115.00" y="150.94" font-size="3.9" text-anchor="start" fill="#2a2a2a" font-weight="normal"  stroke="#2a2a2a" stroke-width="0.05">YBX1</text>
<text x="115.00" y="155.01" font-size="3.9" text-anchor="start" fill="#2a2a2a" font-weight="normal"  stroke="#2a2a2a" stroke-width="0.05">BHLHE40</text>
<text x="115.00" y="159.08" font-size="3.9" text-anchor="start" fill="#2a2a2a" font-weight="normal"  stroke="#2a2a2a" stroke-width="0.05">HIF1A</text>
<text x="115.00" y="163.16" font-size="3.9" text-anchor="start" fill="#2a2a2a" font-weight="normal"  stroke="#2a2a2a" stroke-width="0.05">MEIS1</text>
<text x="115.00" y="167.23" font-size="3.9" text-anchor="start" fill="#2a2a2a" font-weight="normal"  stroke="#2a2a2a" stroke-width="0.05">ETS1</text>
<text x="115.00" y="171.30" font-size="3.9" text-anchor="start" fill="#2a2a2a" font-weight="normal"  stroke="#2a2a2a" stroke-width="0.05">KAT6A</text>
<text x="115.00" y="175.37" font-size="3.9" text-anchor="start" fill="#2a2a2a" font-weight="normal"  stroke="#2a2a2a" stroke-width="0.05">ZNF440</text>
<text x="115.00" y="179.44" font-size="3.9" text-anchor="start" fill="#2a2a2a" font-weight="normal"  stroke="#2a2a2a" stroke-width="0.05">FLI1</text>
<text x="115.00" y="183.52" font-size="3.9" text-anchor="start" fill="#2a2a2a" font-weight="normal"  stroke="#2a2a2a" stroke-width="0.05">ZNF263</text>
<text x="115.00" y="187.59" font-size="3.9" text-anchor="start" fill="#2a2a2a" font-weight="normal"  stroke="#2a2a2a" stroke-width="0.05">NFATC3</text>
<text x="115.00" y="191.66" font-size="3.9" text-anchor="start" fill="#2a2a2a" font-weight="normal"  stroke="#2a2a2a" stroke-width="0.05">TCF4</text>
<text x="115.00" y="195.73" font-size="3.9" text-anchor="start" fill="#2a2a2a" font-weight="normal"  stroke="#2a2a2a" stroke-width="0.05">NFE2L2</text>
<text x="115.00" y="199.80" font-size="3.9" text-anchor="start" fill="#2a2a2a" font-weight="normal"  stroke="#2a2a2a" stroke-width="0.05">ETS2</text>
<text x="115.00" y="203.88" font-size="3.9" text-anchor="start" fill="#2a2a2a" font-weight="normal"  stroke="#2a2a2a" stroke-width="0.05">IRF1</text>
<text x="115.00" y="212.02" font-size="3.9" text-anchor="start" fill="#2a2a2a" font-weight="normal"  stroke="#2a2a2a" stroke-width="0.05">ARID1A</text>
<text x="115.00" y="216.09" font-size="3.9" text-anchor="start" fill="#2a2a2a" font-weight="normal"  stroke="#2a2a2a" stroke-width="0.05">NFYC</text>
<text x="115.00" y="220.16" font-size="3.9" text-anchor="start" fill="#2a2a2a" font-weight="normal"  stroke="#2a2a2a" stroke-width="0.05">NCOA3</text>
<text x="115.00" y="224.24" font-size="3.9" text-anchor="start" fill="#2a2a2a" font-weight="normal"  stroke="#2a2a2a" stroke-width="0.05">ELF1</text>
<text x="115.00" y="232.38" font-size="3.9" text-anchor="start" fill="#2a2a2a" font-weight="normal"  stroke="#2a2a2a" stroke-width="0.05">NR3C1</text>
<text x="115.00" y="240.52" font-size="3.9" text-anchor="start" fill="#2a2a2a" font-weight="normal"  stroke="#2a2a2a" stroke-width="0.05">ZBTB7A</text>
<text x="115.00" y="244.60" font-size="3.9" text-anchor="start" fill="#2a2a2a" font-weight="normal"  stroke="#2a2a2a" stroke-width="0.05">JUND</text>
<text x="115.00" y="248.67" font-size="3.9" text-anchor="start" fill="#2a2a2a" font-weight="normal"  stroke="#2a2a2a" stroke-width="0.05">SP3</text>
<text x="115.00" y="252.74" font-size="3.9" text-anchor="start" fill="#2a2a2a" font-weight="normal"  stroke="#2a2a2a" stroke-width="0.05">TFEC</text>
<text x="115.00" y="256.81" font-size="3.9" text-anchor="start" fill="#2a2a2a" font-weight="normal"  stroke="#2a2a2a" stroke-width="0.05">STAT1</text>
<text x="115.00" y="260.88" font-size="3.9" text-anchor="start" fill="#2a2a2a" font-weight="normal"  stroke="#2a2a2a" stroke-width="0.05">ZBTB44</text>
<text x="115.00" y="269.03" font-size="3.9" text-anchor="start" fill="#2a2a2a" font-weight="normal"  stroke="#2a2a2a" stroke-width="0.05">SOX4</text>
<text x="115.00" y="273.10" font-size="3.9" text-anchor="start" fill="#2a2a2a" font-weight="normal"  stroke="#2a2a2a" stroke-width="0.05">PKNOX1</text>
<text x="115.00" y="277.17" font-size="3.9" text-anchor="start" fill="#2a2a2a" font-weight="normal"  stroke="#2a2a2a" stroke-width="0.05">MAZ</text>
<text x="115.00" y="281.24" font-size="3.9" text-anchor="start" fill="#2a2a2a" font-weight="normal"  stroke="#2a2a2a" stroke-width="0.05">FOS</text>
<text x="115.00" y="285.32" font-size="3.9" text-anchor="start" fill="#2a2a2a" font-weight="normal"  stroke="#2a2a2a" stroke-width="0.05">RBPJ</text>
<text x="115.00" y="289.39" font-size="3.9" text-anchor="start" fill="#2a2a2a" font-weight="normal"  stroke="#2a2a2a" stroke-width="0.05">JUNB</text>
<text x="115.00" y="293.46" font-size="3.9" text-anchor="start" fill="#2a2a2a" font-weight="normal"  stroke="#2a2a2a" stroke-width="0.05">SATB1</text>
<text x="115.00" y="297.53" font-size="3.9" text-anchor="start" fill="#2a2a2a" font-weight="normal"  stroke="#2a2a2a" stroke-width="0.05">BACH1</text>
<text x="115.00" y="301.60" font-size="3.9" text-anchor="start" fill="#2a2a2a" font-weight="normal"  stroke="#2a2a2a" stroke-width="0.05">ARID4A</text>
<text x="115.00" y="305.68" font-size="3.9" text-anchor="start" fill="#2a2a2a" font-weight="normal"  stroke="#2a2a2a" stroke-width="0.05">STAT3</text>
<text x="115.00" y="309.75" font-size="3.9" text-anchor="start" fill="#2a2a2a" font-weight="normal"  stroke="#2a2a2a" stroke-width="0.05">ARID1B</text>
<text x="115.00" y="313.82" font-size="3.9" text-anchor="start" fill="#2a2a2a" font-weight="normal"  stroke="#2a2a2a" stroke-width="0.05">ZNF410</text>
<text x="115.00" y="317.89" font-size="3.9" text-anchor="start" fill="#2a2a2a" font-weight="normal"  stroke="#2a2a2a" stroke-width="0.05">SP110</text>
<text x="115.00" y="321.96" font-size="3.9" text-anchor="start" fill="#2a2a2a" font-weight="normal"  stroke="#2a2a2a" stroke-width="0.05">ZNF280</text>
<text x="115.00" y="326.04" font-size="3.9" text-anchor="start" fill="#2a2a2a" font-weight="normal"  stroke="#2a2a2a" stroke-width="0.05">ATRX</text>
<text x="115.00" y="330.11" font-size="3.9" text-anchor="start" fill="#2a2a2a" font-weight="normal"  stroke="#2a2a2a" stroke-width="0.05">NCOR1</text>
<text x="115.00" y="334.18" font-size="3.9" text-anchor="start" fill="#2a2a2a" font-weight="normal"  stroke="#2a2a2a" stroke-width="0.05">MXD1</text>
<text x="115.00" y="342.32" font-size="3.9" text-anchor="start" fill="#2a2a2a" font-weight="normal"  stroke="#2a2a2a" stroke-width="0.05">LRRFIP1</text>
<text x="115.00" y="346.40" font-size="3.9" text-anchor="start" fill="#2a2a2a" font-weight="normal"  stroke="#2a2a2a" stroke-width="0.05">FOXN2</text>
<text x="115.00" y="350.47" font-size="3.9" text-anchor="start" fill="#2a2a2a" font-weight="normal"  stroke="#2a2a2a" stroke-width="0.05">CTCF</text>
<text x="115.00" y="354.54" font-size="3.9" text-anchor="start" fill="#2a2a2a" font-weight="normal"  stroke="#2a2a2a" stroke-width="0.05">DNMT1</text>
<text x="115.00" y="358.61" font-size="3.9" text-anchor="start" fill="#2a2a2a" font-weight="normal"  stroke="#2a2a2a" stroke-width="0.05">SPI1</text>
<text x="115.00" y="362.68" font-size="3.9" text-anchor="start" fill="#2a2a2a" font-weight="normal"  stroke="#2a2a2a" stroke-width="0.05">KDM5A</text>
<text x="115.00" y="366.76" font-size="3.9" text-anchor="start" fill="#2a2a2a" font-weight="normal"  stroke="#2a2a2a" stroke-width="0.05">FOXP1</text>
<text x="115.00" y="370.83" font-size="3.9" text-anchor="start" fill="#2a2a2a" font-weight="normal"  stroke="#2a2a2a" stroke-width="0.05">ZEB2</text>
<text x="115.00" y="374.90" font-size="3.9" text-anchor="start" fill="#2a2a2a" font-weight="normal"  stroke="#2a2a2a" stroke-width="0.05">JAZF1</text>
<text x="115.00" y="378.97" font-size="3.9" text-anchor="start" fill="#2a2a2a" font-weight="normal"  stroke="#2a2a2a" stroke-width="0.05">SP100</text>
<text x="115.00" y="383.04" font-size="3.9" text-anchor="start" fill="#2a2a2a" font-weight="normal"  stroke="#2a2a2a" stroke-width="0.05">HES1</text>
<text x="115.00" y="387.12" font-size="3.9" text-anchor="start" fill="#2a2a2a" font-weight="normal"  stroke="#2a2a2a" stroke-width="0.05">POU2F2</text>
<text x="115.00" y="391.19" font-size="3.9" text-anchor="start" fill="#2a2a2a" font-weight="normal"  stroke="#2a2a2a" stroke-width="0.05">HMGA1</text>
<text x="115.00" y="395.26" font-size="3.9" text-anchor="start" fill="#2a2a2a" font-weight="normal"  stroke="#2a2a2a" stroke-width="0.05">NFAT5</text>
<text x="115.00" y="399.33" font-size="3.9" text-anchor="start" fill="#2a2a2a" font-weight="normal"  stroke="#2a2a2a" stroke-width="0.05">ZNF341</text>
<text x="115.00" y="403.40" font-size="3.9" text-anchor="start" fill="#2a2a2a" font-weight="normal"  stroke="#2a2a2a" stroke-width="0.05">ZNF24</text>
<text x="115.00" y="407.48" font-size="3.9" text-anchor="start" fill="#2a2a2a" font-weight="normal"  stroke="#2a2a2a" stroke-width="0.05">ZBTB20</text>
<text x="115.00" y="411.55" font-size="3.9" text-anchor="start" fill="#2a2a2a" font-weight="normal"  stroke="#2a2a2a" stroke-width="0.05">TRPS1</text>
<text x="115.00" y="415.62" font-size="3.9" text-anchor="start" fill="#2a2a2a" font-weight="normal"  stroke="#2a2a2a" stroke-width="0.05">BBX</text>
<text x="115.00" y="423.76" font-size="3.9" text-anchor="start" fill="#2a2a2a" font-weight="normal"  stroke="#2a2a2a" stroke-width="0.05">ZNF451</text>
<text x="115.00" y="427.84" font-size="3.9" text-anchor="start" fill="#2a2a2a" font-weight="normal"  stroke="#2a2a2a" stroke-width="0.05">JARID2</text>
<text x="115.00" y="431.91" font-size="3.9" text-anchor="start" fill="#2a2a2a" font-weight="normal"  stroke="#2a2a2a" stroke-width="0.05">YY1</text>
<text x="115.00" y="435.98" font-size="3.9" text-anchor="start" fill="#2a2a2a" font-weight="normal"  stroke="#2a2a2a" stroke-width="0.05">REL</text>
<text x="115.00" y="440.05" font-size="3.9" text-anchor="start" fill="#2a2a2a" font-weight="normal"  stroke="#2a2a2a" stroke-width="0.05">ELF2</text>
<text x="115.00" y="444.12" font-size="3.9" text-anchor="start" fill="#2a2a2a" font-weight="normal"  stroke="#2a2a2a" stroke-width="0.05">NONO</text>
<text x="115.00" y="448.20" font-size="3.9" text-anchor="start" fill="#2a2a2a" font-weight="normal"  stroke="#2a2a2a" stroke-width="0.05">E2F3</text>
<text x="115.00" y="452.27" font-size="3.9" text-anchor="start" fill="#2a2a2a" font-weight="normal"  stroke="#2a2a2a" stroke-width="0.05">GATAD1</text>
<text x="115.00" y="456.34" font-size="3.9" text-anchor="start" fill="#2a2a2a" font-weight="normal"  stroke="#2a2a2a" stroke-width="0.05">MAF</text>
<text x="115.00" y="460.41" font-size="3.9" text-anchor="start" fill="#2a2a2a" font-weight="normal"  stroke="#2a2a2a" stroke-width="0.05">KMT2A</text>
<text x="115.00" y="464.48" font-size="3.9" text-anchor="start" fill="#2a2a2a" font-weight="normal"  stroke="#2a2a2a" stroke-width="0.05">NFKBIA</text>
<text x="115.00" y="468.56" font-size="3.9" text-anchor="start" fill="#2a2a2a" font-weight="normal"  stroke="#2a2a2a" stroke-width="0.05">USF2</text>
<text x="115.00" y="472.63" font-size="3.9" text-anchor="start" fill="#2a2a2a" font-weight="normal"  stroke="#2a2a2a" stroke-width="0.05">TCF25</text>
<line x1="112.60" y1="84.30" x2="129.00" y2="82.60" stroke="#222" stroke-width="0.8" />
<text x="129.90" y="84.40" font-size="6.3" text-anchor="start" fill="#1a1a1a" font-weight="normal"  stroke="#1a1a1a" stroke-width="0.08">MEF2C</text>
<line x1="112.60" y1="207.20" x2="129.10" y2="205.30" stroke="#222" stroke-width="0.8" />
<text x="130.00" y="207.10" font-size="6.3" text-anchor="start" fill="#1a1a1a" font-weight="normal"  stroke="#1a1a1a" stroke-width="0.08">ID2</text>
<line x1="112.60" y1="227.00" x2="129.10" y2="225.30" stroke="#222" stroke-width="0.8" />
<text x="130.00" y="227.10" font-size="6.3" text-anchor="start" fill="#1a1a1a" font-weight="normal"  stroke="#1a1a1a" stroke-width="0.08">KLF6</text>
<line x1="112.60" y1="234.30" x2="130.10" y2="236.30" stroke="#222" stroke-width="0.8" />
<text x="131.00" y="238.10" font-size="6.3" text-anchor="start" fill="#1a1a1a" font-weight="normal"  stroke="#1a1a1a" stroke-width="0.08">MAFB</text>
<line x1="112.60" y1="264.60" x2="128.80" y2="262.30" stroke="#222" stroke-width="0.8" />
<text x="129.70" y="264.10" font-size="6.3" text-anchor="start" fill="#1a1a1a" font-weight="normal"  stroke="#1a1a1a" stroke-width="0.08">CEBPB</text>
<line x1="112.60" y1="337.50" x2="128.80" y2="335.80" stroke="#222" stroke-width="0.8" />
<text x="129.70" y="337.60" font-size="6.3" text-anchor="start" fill="#1a1a1a" font-weight="normal"  stroke="#1a1a1a" stroke-width="0.08">IKZF1</text>
<line x1="112.60" y1="417.50" x2="130.20" y2="418.60" stroke="#222" stroke-width="0.8" />
<text x="131.10" y="420.40" font-size="6.3" text-anchor="start" fill="#1a1a1a" font-weight="normal"  stroke="#1a1a1a" stroke-width="0.08">CEBPD</text>
<text x="143.80" y="94.00" font-size="6.5" text-anchor="start" fill="#1a1a1a" font-weight="normal" textLength="27.7" lengthAdjust="spacingAndGlyphs">Regulatory</text>
<text x="143.80" y="101.40" font-size="6.5" text-anchor="start" fill="#1a1a1a" font-weight="normal" textLength="27.7" lengthAdjust="spacingAndGlyphs">dissimilarty</text>
<text x="143.80" y="108.70" font-size="6.5" text-anchor="start" fill="#1a1a1a" font-weight="normal" textLength="14.3" lengthAdjust="spacingAndGlyphs">score</text>
<defs><linearGradient id="cb" x1="0" y1="0" x2="0" y2="1">
<stop offset="0.00" stop-color="#f2f84a"/>
<stop offset="0.10" stop-color="#f9ce44"/>
<stop offset="0.20" stop-color="#f6a849"/>
<stop offset="0.30" stop-color="#ea8856"/>
<stop offset="0.40" stop-color="#d86a67"/>
<stop offset="0.50" stop-color="#c35078"/>
<stop offset="0.60" stop-color="#a9378b"/>
<stop offset="0.70" stop-color="#89229a"/>
<stop offset="0.80" stop-color="#67179c"/>
<stop offset="0.90" stop-color="#431290"/>
<stop offset="1.00" stop-color="#1c0f7b"/>
</linearGradient></defs>
<rect x="147.3" y="112.75" width="6.4" height="88.95" fill="url(#cb)"/>
<text x="157.00" y="115.80" font-size="5.8" text-anchor="start" fill="#1a1a1a" font-weight="normal"  stroke="#1a1a1a" stroke-width="0.1">1</text>
<text x="157.00" y="136.95" font-size="5.8" text-anchor="start" fill="#1a1a1a" font-weight="normal"  stroke="#1a1a1a" stroke-width="0.1">0.8</text>
<text x="157.00" y="158.50" font-size="5.8" text-anchor="start" fill="#1a1a1a" font-weight="normal"  stroke="#1a1a1a" stroke-width="0.1">0.6</text>
<text x="157.00" y="180.05" font-size="5.8" text-anchor="start" fill="#1a1a1a" font-weight="normal"  stroke="#1a1a1a" stroke-width="0.1">0.4</text>
<text x="157.00" y="201.60" font-size="5.8" text-anchor="start" fill="#1a1a1a" font-weight="normal"  stroke="#1a1a1a" stroke-width="0.1">0.2</text>
<path d="M43.50 71.41L43.50 75.48 M43.50 71.41L48.50 71.41 M43.50 75.48L48.50 75.48 M41.60 67.34L41.60 73.45 M41.60 67.34L48.50 67.34 M41.60 73.45L43.50 73.45 M46.00 83.63L46.00 87.71 M46.00 83.63L48.50 83.63 M46.00 87.71L48.50 87.71 M45.50 91.78L45.50 95.85 M45.50 91.78L48.50 91.78 M45.50 95.85L48.50 95.85 M44.30 85.67L44.30 93.82 M44.30 85.67L46.00 85.67 M44.30 93.82L45.50 93.82 M41.60 79.56L41.60 89.74 M41.60 79.56L48.50 79.56 M41.60 89.74L44.30 89.74 M38.30 70.39L38.30 84.65 M38.30 70.39L41.60 70.39 M38.30 84.65L41.60 84.65 M45.60 104.00L45.60 108.08 M45.60 104.00L48.50 104.00 M45.60 108.08L48.50 108.08 M43.90 99.93L43.90 106.04 M43.90 99.93L48.50 99.93 M43.90 106.04L45.60 106.04 M44.60 112.15L44.60 116.22 M44.60 112.15L48.50 112.15 M44.60 116.22L48.50 116.22 M41.40 102.98L41.40 114.19 M41.40 102.98L43.90 102.98 M41.40 114.19L44.60 114.19 M44.29 120.30L44.29 124.37 M44.29 120.30L48.50 120.30 M44.29 124.37L48.50 124.37 M43.20 122.34L43.20 128.45 M43.20 122.34L44.29 122.34 M43.20 128.45L48.50 128.45 M44.50 132.52L44.50 136.59 M44.50 132.52L48.50 132.52 M44.50 136.59L48.50 136.59 M44.14 140.67L44.14 144.74 M44.14 140.67L48.50 140.67 M44.14 144.74L48.50 144.74 M43.10 134.56L43.10 142.71 M43.10 134.56L44.50 134.56 M43.10 142.71L44.14 142.71 M45.04 148.82L45.04 152.89 M45.04 148.82L48.50 148.82 M45.04 152.89L48.50 152.89 M45.31 156.96L45.31 161.04 M45.31 156.96L48.50 156.96 M45.31 161.04L48.50 161.04 M43.70 150.85L43.70 159.00 M43.70 150.85L45.04 150.85 M43.70 159.00L45.31 159.00 M41.70 138.63L41.70 154.93 M41.70 138.63L43.10 138.63 M41.70 154.93L43.70 154.93 M38.50 125.39L38.50 146.78 M38.50 125.39L43.20 125.39 M38.50 146.78L41.70 146.78 M34.50 108.59L34.50 136.09 M34.50 108.59L41.40 108.59 M34.50 136.09L38.50 136.09 M43.75 165.11L43.75 169.19 M43.75 165.11L48.50 165.11 M43.75 169.19L48.50 169.19 M44.57 173.26L44.57 177.33 M44.57 173.26L48.50 173.26 M44.57 177.33L48.50 177.33 M43.75 175.30L43.75 181.41 M43.75 175.30L44.57 175.30 M43.75 181.41L48.50 181.41 M42.30 167.15L42.30 178.35 M42.30 167.15L43.75 167.15 M42.30 178.35L43.75 178.35 M46.60 185.48L46.60 189.56 M46.60 185.48L48.50 185.48 M46.60 189.56L48.50 189.56 M46.60 187.52L46.60 193.63 M46.60 187.52L46.60 187.52 M46.60 193.63L48.50 193.63 M46.00 190.58L46.00 197.70 M46.00 190.58L46.60 190.58 M46.00 197.70L48.50 197.70 M45.64 201.78L45.64 205.85 M45.64 201.78L48.50 201.78 M45.64 205.85L48.50 205.85 M44.84 203.82L44.84 209.93 M44.84 203.82L45.64 203.82 M44.84 209.93L48.50 209.93 M45.86 214.00L45.86 218.07 M45.86 214.00L48.50 214.00 M45.86 218.07L48.50 218.07 M45.81 222.15L45.81 226.22 M45.81 222.15L48.50 222.15 M45.81 226.22L48.50 226.22 M44.94 216.04L44.94 224.19 M44.94 216.04L45.86 216.04 M44.94 224.19L45.81 224.19 M44.04 206.87L44.04 220.11 M44.04 206.87L44.84 206.87 M44.04 220.11L44.94 220.11 M45.93 230.30L45.93 234.37 M45.93 230.30L48.50 230.30 M45.93 234.37L48.50 234.37 M45.13 232.33L45.13 238.44 M45.13 232.33L45.93 232.33 M45.13 238.44L48.50 238.44 M45.61 242.52L45.61 246.59 M45.61 242.52L48.50 242.52 M45.61 246.59L48.50 246.59 M44.24 235.39L44.24 244.56 M44.24 235.39L45.13 235.39 M44.24 244.56L45.61 244.56 M42.50 213.49L42.50 239.97 M42.50 213.49L44.04 213.49 M42.50 239.97L44.24 239.97 M46.60 250.67L46.60 254.74 M46.60 250.67L48.50 250.67 M46.60 254.74L48.50 254.74 M46.40 252.70L46.40 258.81 M46.40 252.70L46.60 252.70 M46.40 258.81L48.50 258.81 M46.40 262.89L46.40 266.96 M46.40 262.89L48.50 262.89 M46.40 266.96L48.50 266.96 M45.60 255.76L45.60 264.93 M45.60 255.76L46.40 255.76 M45.60 264.93L46.40 264.93 M46.60 271.04L46.60 275.11 M46.60 271.04L48.50 271.04 M46.60 275.11L48.50 275.11 M46.60 273.07L46.60 279.19 M46.60 273.07L46.60 273.07 M46.60 279.19L48.50 279.19 M46.34 276.13L46.34 283.26 M46.34 276.13L46.60 276.13 M46.34 283.26L48.50 283.26 M46.34 287.33L46.34 291.41 M46.34 287.33L48.50 287.33 M46.34 291.41L48.50 291.41 M45.54 279.69L45.54 289.37 M45.54 279.69L46.34 279.69 M45.54 289.37L46.34 289.37 M44.57 260.34L44.57 284.53 M44.57 260.34L45.60 260.34 M44.57 284.53L45.54 284.53 M46.60 295.48L46.60 299.56 M46.60 295.48L48.50 295.48 M46.60 299.56L48.50 299.56 M46.48 297.52L46.48 303.63 M46.48 297.52L46.60 297.52 M46.48 303.63L48.50 303.63 M45.68 300.57L45.68 307.70 M45.68 300.57L46.48 300.57 M45.68 307.70L48.50 307.70 M45.68 311.78L45.68 315.85 M45.68 311.78L48.50 311.78 M45.68 315.85L48.50 315.85 M44.88 304.14L44.88 313.81 M44.88 304.14L45.68 304.14 M44.88 313.81L45.68 313.81 M43.00 272.44L43.00 308.98 M43.00 272.44L44.57 272.44 M43.00 308.98L44.88 308.98 M41.30 226.73L41.30 290.71 M41.30 226.73L42.50 226.73 M41.30 290.71L43.00 290.71 M39.50 194.14L39.50 258.72 M39.50 194.14L46.00 194.14 M39.50 258.72L41.30 258.72 M34.00 172.75L34.00 226.43 M34.00 172.75L42.30 172.75 M34.00 226.43L39.50 226.43 M27.00 122.34L27.00 199.59 M27.00 122.34L34.50 122.34 M27.00 199.59L34.00 199.59 M23.80 77.52L23.80 160.96 M23.80 77.52L38.30 77.52 M23.80 160.96L27.00 160.96 M43.30 319.93L43.30 324.00 M43.30 319.93L48.50 319.93 M43.30 324.00L48.50 324.00 M46.60 328.07L46.60 332.15 M46.60 328.07L48.50 328.07 M46.60 332.15L48.50 332.15 M46.41 330.11L46.41 336.22 M46.41 330.11L46.60 330.11 M46.41 336.22L48.50 336.22 M45.61 333.17L45.61 340.30 M45.61 333.17L46.41 333.17 M45.61 340.30L48.50 340.30 M44.60 336.73L44.60 344.37 M44.60 336.73L45.61 336.73 M44.60 344.37L48.50 344.37 M45.50 348.44L45.50 352.52 M45.50 348.44L48.50 348.44 M45.50 352.52L48.50 352.52 M40.80 340.55L40.80 350.48 M40.80 340.55L44.60 340.55 M40.80 350.48L45.50 350.48 M35.00 321.96L35.00 345.51 M35.00 321.96L43.30 321.96 M35.00 345.51L40.80 345.51 M38.70 360.67L38.70 364.74 M38.70 360.67L48.50 360.67 M38.70 364.74L48.50 364.74 M31.30 356.59L31.30 362.70 M31.30 356.59L48.50 356.59 M31.30 362.70L38.70 362.70 M21.40 333.74L21.40 359.65 M21.40 333.74L35.00 333.74 M21.40 359.65L31.30 359.65 M43.02 368.81L43.02 372.89 M43.02 368.81L48.50 368.81 M43.02 372.89L48.50 372.89 M41.50 370.85L41.50 376.96 M41.50 370.85L43.02 370.85 M41.50 376.96L48.50 376.96 M42.21 381.04L42.21 385.11 M42.21 381.04L48.50 381.04 M42.21 385.11L48.50 385.11 M40.62 383.07L40.62 389.18 M40.62 383.07L42.21 383.07 M40.62 389.18L48.50 389.18 M43.82 393.26L43.82 397.33 M43.82 393.26L48.50 393.26 M43.82 397.33L48.50 397.33 M41.02 395.29L41.02 401.40 M41.02 395.29L43.82 395.29 M41.02 401.40L48.50 401.40 M38.00 386.13L38.00 398.35 M38.00 386.13L40.62 386.13 M38.00 398.35L41.02 398.35 M31.80 373.91L31.80 392.24 M31.80 373.91L41.50 373.91 M31.80 392.24L38.00 392.24 M44.69 405.48L44.69 409.55 M44.69 405.48L48.50 405.48 M44.69 409.55L48.50 409.55 M42.39 407.52L42.39 413.63 M42.39 407.52L44.69 407.52 M42.39 413.63L48.50 413.63 M41.96 417.70L41.96 421.77 M41.96 417.70L48.50 417.70 M41.96 421.77L48.50 421.77 M40.00 410.57L40.00 419.74 M40.00 410.57L42.39 410.57 M40.00 419.74L41.96 419.74 M44.78 425.85L44.78 429.92 M44.78 425.85L48.50 425.85 M44.78 429.92L48.50 429.92 M42.66 427.89L42.66 434.00 M42.66 427.89L44.78 427.89 M42.66 434.00L48.50 434.00 M43.49 438.07L43.49 442.14 M43.49 438.07L48.50 438.07 M43.49 442.14L48.50 442.14 M44.13 446.22L44.13 450.29 M44.13 446.22L48.50 446.22 M44.13 450.29L48.50 450.29 M41.32 440.11L41.32 448.26 M41.32 440.11L43.49 440.11 M41.32 448.26L44.13 448.26 M39.00 430.94L39.00 444.18 M39.00 430.94L42.66 430.94 M39.00 444.18L41.32 444.18 M36.20 415.15L36.20 437.56 M36.20 415.15L40.00 415.15 M36.20 437.56L39.00 437.56 M40.48 454.37L40.48 458.44 M40.48 454.37L48.50 454.37 M40.48 458.44L48.50 458.44 M43.05 462.51L43.05 466.59 M43.05 462.51L48.50 462.51 M43.05 466.59L48.50 466.59 M39.78 464.55L39.78 470.66 M39.78 464.55L43.05 464.55 M39.78 470.66L48.50 470.66 M35.30 456.40L35.30 467.61 M35.30 456.40L40.48 456.40 M35.30 467.61L39.78 467.61 M28.30 426.36L28.30 462.01 M28.30 426.36L36.20 426.36 M28.30 462.01L35.30 462.01 M21.40 383.07L21.40 444.18 M21.40 383.07L31.80 383.07 M21.40 444.18L28.30 444.18 M13.40 346.69L13.40 413.63 M13.40 346.69L21.40 346.69 M13.40 413.63L21.40 413.63 M7.20 119.24L7.20 380.16 M7.20 119.24L23.80 119.24 M7.20 380.16L13.40 380.16" stroke="#2a2a2a" stroke-width="1.05" fill="none" stroke-linecap="square"/>
<text x="266.70" y="27.05" font-size="7.9" text-anchor="middle" fill="#1a1a1a" font-weight="normal" >KLF6</text>
<path d="M231.98 90.20 L231.98 86.35 L232.48 86.35 L232.48 77.61 L232.99 77.61 L232.99 67.34 L233.50 67.34 L233.50 60.51 L234.01 60.51 L234.01 57.32 L234.51 57.32 L234.51 53.00 L235.02 53.00 L235.02 48.60 L235.53 48.60 L235.53 32.60 L236.04 32.60 L236.04 32.60 L236.54 32.60 L236.54 51.80 L237.05 51.80 L237.05 62.68 L237.56 62.68 L237.56 65.22 L238.07 65.22 L238.07 69.15 L238.57 69.15 L238.57 71.32 L239.08 71.32 L239.08 72.61 L239.59 72.61 L239.59 70.60 L240.10 70.60 L240.10 68.40 L240.60 68.40 L240.60 63.96 L241.11 63.96 L241.11 55.00 L241.62 55.00 L241.62 35.80 L242.13 35.80 L242.13 35.80 L242.63 35.80 L242.63 55.00 L243.14 55.00 L243.14 69.70 L243.65 69.70 L243.65 73.69 L244.16 73.69 L244.16 75.70 L244.66 75.70 L244.66 78.40 L245.17 78.40 L245.17 80.94 L245.68 80.94 L245.68 83.45 L246.19 83.45 L246.19 86.12 L246.69 86.12 L246.69 87.81 L247.20 87.81 L247.20 88.74 L247.71 88.74 L247.71 89.37 L248.22 89.37 L248.22 89.36 L248.72 89.36 L248.72 89.36 L249.23 89.36 L249.23 89.45 L249.74 89.45 L249.74 89.39 L250.25 89.39 L250.25 89.38 L250.75 89.38 L250.75 89.40 L251.26 89.40 L251.26 89.44 L251.77 89.44 L251.77 89.40 L252.28 89.40 L252.28 89.45 L252.78 89.45 L252.78 89.36 L253.29 89.36 L253.29 89.38 L253.80 89.38 L253.80 89.42 L254.31 89.42 L254.31 89.46 L254.81 89.46 L254.81 89.41 L255.32 89.41 L255.32 89.45 L255.83 89.45 L255.83 89.43 L256.34 89.43 L256.34 89.44 L256.84 89.44 L256.84 89.49 L257.35 89.49 L257.35 89.51 L257.86 89.51 L257.86 89.50 L258.37 89.50 L258.37 89.53 L258.87 89.53 L258.87 89.56 L259.38 89.56 L259.38 89.56 L259.89 89.56 L259.89 89.52 L260.40 89.52 L260.40 89.60 L260.90 89.60 L260.90 89.61 L261.41 89.61 L261.41 89.56 L261.92 89.56 L261.92 89.60 L262.43 89.60 L262.43 89.59 L262.93 89.59 L262.93 89.60 L263.44 89.60 L263.44 89.62 L263.95 89.62 L263.95 89.57 L264.46 89.57 L264.46 89.65 L264.96 89.65 L264.96 89.64 L265.47 89.64 L265.47 89.66 L265.98 89.66 L265.98 89.64 L266.49 89.64 L266.49 89.67 L266.99 89.67 L266.99 89.67 L267.50 89.67 L267.50 89.65 L268.01 89.65 L268.01 89.69 L268.52 89.69 L268.52 89.68 L269.02 89.68 L269.02 89.67 L269.53 89.67 L269.53 89.73 L270.04 89.73 L270.04 89.74 L270.55 89.74 L270.55 89.74 L271.05 89.74 L271.05 90.20 L271.56 90.20 L271.56 90.20 Z" fill="#a6bbe6" fill-opacity="0.95" stroke="#7c98d4" stroke-width="0.45" stroke-opacity="0.85"/>
<path d="M263.75 90.20 L263.75 89.98 L264.46 89.98 L264.46 89.55 L265.17 89.55 L265.17 89.26 L265.88 89.26 L265.88 88.79 L266.59 88.79 L266.59 88.06 L267.30 88.06 L267.30 86.98 L268.01 86.98 L268.01 85.82 L268.72 85.82 L268.72 85.04 L269.43 85.04 L269.43 82.96 L270.14 82.96 L270.14 80.95 L270.85 80.95 L270.85 79.47 L271.56 79.47 L271.56 77.21 L272.27 77.21 L272.27 75.07 L272.98 75.07 L272.98 72.60 L273.69 72.60 L273.69 72.28 L274.40 72.28 L274.40 70.04 L275.11 70.04 L275.11 69.39 L275.82 69.39 L275.82 67.80 L276.53 67.80 L276.53 66.92 L277.24 66.92 L277.24 65.83 L277.96 65.83 L277.96 64.60 L278.67 64.60 L278.67 64.60 L279.38 64.60 L279.38 65.11 L280.09 65.11 L280.09 65.24 L280.80 65.24 L280.80 66.16 L281.51 66.16 L281.51 67.41 L282.22 67.41 L282.22 68.44 L282.93 68.44 L282.93 69.70 L283.64 69.70 L283.64 70.52 L284.35 70.52 L284.35 71.73 L285.06 71.73 L285.06 72.53 L285.77 72.53 L285.77 73.06 L286.48 73.06 L286.48 75.14 L287.19 75.14 L287.19 76.02 L287.90 76.02 L287.90 77.31 L288.61 77.31 L288.61 77.82 L289.32 77.82 L289.32 78.45 L290.03 78.45 L290.03 80.10 L290.74 80.10 L290.74 81.11 L291.45 81.11 L291.45 82.69 L292.16 82.69 L292.16 83.53 L292.88 83.53 L292.88 85.10 L293.59 85.10 L293.59 86.07 L294.30 86.07 L294.30 87.01 L295.01 87.01 L295.01 88.05 L295.72 88.05 L295.72 89.05 L296.43 89.05 L296.43 89.60 L297.14 89.60 L297.14 90.00 L297.85 90.00 L297.85 90.20 L298.56 90.20 L298.56 90.20 Z" fill="#efa4aa" fill-opacity="0.95" stroke="#dc7c86" stroke-width="0.45" stroke-opacity="0.85"/>
<line x1="228.20" y1="32.20" x2="228.20" y2="93.55" stroke="#222" stroke-width="0.95" />
<line x1="227.75" y1="93.10" x2="305.40" y2="93.10" stroke="#222" stroke-width="0.95" />
<line x1="225.40" y1="90.20" x2="228.20" y2="90.20" stroke="#222" stroke-width="0.75" />
<text x="222.30" y="92.40" font-size="6.1" text-anchor="end" fill="#262626" font-weight="normal"  stroke="#262626" stroke-width="0.16">0</text>
<line x1="225.40" y1="74.20" x2="228.20" y2="74.20" stroke="#222" stroke-width="0.75" />
<text x="222.30" y="76.40" font-size="6.1" text-anchor="end" fill="#262626" font-weight="normal"  stroke="#262626" stroke-width="0.16">10</text>
<line x1="225.40" y1="58.20" x2="228.20" y2="58.20" stroke="#222" stroke-width="0.75" />
<text x="222.30" y="60.40" font-size="6.1" text-anchor="end" fill="#262626" font-weight="normal"  stroke="#262626" stroke-width="0.16">20</text>
<line x1="225.40" y1="42.20" x2="228.20" y2="42.20" stroke="#222" stroke-width="0.75" />
<text x="222.30" y="44.40" font-size="6.1" text-anchor="end" fill="#262626" font-weight="normal"  stroke="#262626" stroke-width="0.16">30</text>
<line x1="239.70" y1="93.10" x2="239.70" y2="95.40" stroke="#222" stroke-width="0.75" />
<text x="239.70" y="104.25" font-size="6.1" text-anchor="middle" fill="#262626" font-weight="normal"  stroke="#262626" stroke-width="0.16">0.3</text>
<line x1="260.57" y1="93.10" x2="260.57" y2="95.40" stroke="#222" stroke-width="0.75" />
<text x="260.57" y="104.25" font-size="6.1" text-anchor="middle" fill="#262626" font-weight="normal"  stroke="#262626" stroke-width="0.16">0.4</text>
<line x1="281.44" y1="93.10" x2="281.44" y2="95.40" stroke="#222" stroke-width="0.75" />
<text x="281.44" y="104.25" font-size="6.1" text-anchor="middle" fill="#262626" font-weight="normal"  stroke="#262626" stroke-width="0.16">0.5</text>
<line x1="302.31" y1="93.10" x2="302.31" y2="95.40" stroke="#222" stroke-width="0.75" />
<text x="302.31" y="104.25" font-size="6.1" text-anchor="middle" fill="#262626" font-weight="normal"  stroke="#262626" stroke-width="0.16">0.6</text>
<text transform="translate(209.6,61.65) rotate(-90)" font-size="7.0" font-weight="bold" text-anchor="middle" fill="#262626" stroke="#262626" stroke-width="0.15" textLength="18.5" lengthAdjust="spacingAndGlyphs">Density</text>
<text x="266.70" y="115.65" font-size="7.9" text-anchor="middle" fill="#1a1a1a" font-weight="normal" >CEBPB</text>
<path d="M232.43 178.70 L232.43 167.11 L232.90 167.11 L232.90 137.54 L233.36 137.54 L233.36 137.54 L233.82 137.54 L233.82 145.18 L234.28 145.18 L234.28 143.87 L234.75 143.87 L234.75 143.45 L235.21 143.45 L235.21 140.71 L235.67 140.71 L235.67 135.19 L236.13 135.19 L236.13 122.50 L236.60 122.50 L236.60 122.50 L237.06 122.50 L237.06 140.71 L237.52 140.71 L237.52 140.95 L237.98 140.95 L237.98 143.87 L238.45 143.87 L238.45 142.47 L238.91 142.47 L238.91 144.18 L239.37 144.18 L239.37 145.84 L239.83 145.84 L239.83 152.12 L240.30 152.12 L240.30 150.74 L240.76 150.74 L240.76 149.24 L241.22 149.24 L241.22 151.39 L241.68 151.39 L241.68 151.57 L242.15 151.57 L242.15 155.74 L242.61 155.74 L242.61 156.11 L243.07 156.11 L243.07 158.16 L243.53 158.16 L243.53 158.57 L244.00 158.57 L244.00 159.75 L244.46 159.75 L244.46 162.22 L244.92 162.22 L244.92 162.75 L245.39 162.75 L245.39 163.77 L245.85 163.77 L245.85 164.03 L246.31 164.03 L246.31 165.89 L246.77 165.89 L246.77 168.30 L247.24 168.30 L247.24 168.81 L247.70 168.81 L247.70 171.71 L248.16 171.71 L248.16 173.39 L248.62 173.39 L248.62 174.37 L249.09 174.37 L249.09 174.67 L249.55 174.67 L249.55 174.40 L250.01 174.40 L250.01 175.15 L250.47 175.15 L250.47 175.69 L250.94 175.69 L250.94 175.96 L251.40 175.96 L251.40 176.87 L251.86 176.87 L251.86 177.93 L252.32 177.93 L252.32 177.87 L252.79 177.87 L252.79 177.93 L253.25 177.93 L253.25 177.93 L253.71 177.93 L253.71 177.99 L254.17 177.99 L254.17 177.93 L254.64 177.93 L254.64 177.97 L255.10 177.97 L255.10 177.96 L255.56 177.96 L255.56 177.98 L256.03 177.98 L256.03 178.05 L256.49 178.05 L256.49 178.06 L256.95 178.06 L256.95 178.09 L257.41 178.09 L257.41 178.10 L257.88 178.10 L257.88 178.12 L258.34 178.12 L258.34 178.12 L258.80 178.12 L258.80 178.11 L259.26 178.11 L259.26 178.17 L259.73 178.17 L259.73 178.13 L260.19 178.13 L260.19 178.17 L260.65 178.17 L260.65 178.19 L261.11 178.19 L261.11 178.16 L261.58 178.16 L261.58 178.20 L262.04 178.20 L262.04 178.23 L262.50 178.23 L262.50 178.32 L262.96 178.32 L262.96 178.70 L263.43 178.70 L263.43 178.70 Z" fill="#a6bbe6" fill-opacity="0.95" stroke="#7c98d4" stroke-width="0.45" stroke-opacity="0.85"/>
<path d="M262.89 178.70 L262.89 178.60 L263.45 178.60 L263.45 178.41 L264.02 178.41 L264.02 178.21 L264.58 178.21 L264.58 178.05 L265.15 178.05 L265.15 177.80 L265.71 177.80 L265.71 177.62 L266.28 177.62 L266.28 177.47 L266.84 177.47 L266.84 177.37 L267.41 177.37 L267.41 177.08 L267.98 177.08 L267.98 176.87 L268.54 176.87 L268.54 176.65 L269.11 176.65 L269.11 175.60 L269.67 175.60 L269.67 174.30 L270.24 174.30 L270.24 173.62 L270.80 173.62 L270.80 171.61 L271.37 171.61 L271.37 170.35 L271.93 170.35 L271.93 169.18 L272.50 169.18 L272.50 168.16 L273.06 168.16 L273.06 166.47 L273.63 166.47 L273.63 165.70 L274.19 165.70 L274.19 164.33 L274.76 164.33 L274.76 163.37 L275.33 163.37 L275.33 163.45 L275.89 163.45 L275.89 161.34 L276.46 161.34 L276.46 160.97 L277.02 160.97 L277.02 159.01 L277.59 159.01 L277.59 158.44 L278.15 158.44 L278.15 158.28 L278.72 158.28 L278.72 156.39 L279.28 156.39 L279.28 156.54 L279.85 156.54 L279.85 156.16 L280.41 156.16 L280.41 155.09 L280.98 155.09 L280.98 154.48 L281.55 154.48 L281.55 154.00 L282.11 154.00 L282.11 153.06 L282.68 153.06 L282.68 151.79 L283.24 151.79 L283.24 151.79 L283.81 151.79 L283.81 154.26 L284.37 154.26 L284.37 155.75 L284.94 155.75 L284.94 158.23 L285.50 158.23 L285.50 158.03 L286.07 158.03 L286.07 158.44 L286.63 158.44 L286.63 161.03 L287.20 161.03 L287.20 160.84 L287.76 160.84 L287.76 160.97 L288.33 160.97 L288.33 163.82 L288.90 163.82 L288.90 163.52 L289.46 163.52 L289.46 165.70 L290.03 165.70 L290.03 166.69 L290.59 166.69 L290.59 167.04 L291.16 167.04 L291.16 168.84 L291.72 168.84 L291.72 169.61 L292.29 169.61 L292.29 170.72 L292.85 170.72 L292.85 171.86 L293.42 171.86 L293.42 172.25 L293.98 172.25 L293.98 172.91 L294.55 172.91 L294.55 174.01 L295.11 174.01 L295.11 174.52 L295.68 174.52 L295.68 174.98 L296.25 174.98 L296.25 175.69 L296.81 175.69 L296.81 176.01 L297.38 176.01 L297.38 176.42 L297.94 176.42 L297.94 176.97 L298.51 176.97 L298.51 177.56 L299.07 177.56 L299.07 178.12 L299.64 178.12 L299.64 178.70 L300.20 178.70 L300.20 178.70 Z" fill="#efa4aa" fill-opacity="0.95" stroke="#dc7c86" stroke-width="0.45" stroke-opacity="0.85"/>
<line x1="228.20" y1="120.80" x2="228.20" y2="182.65" stroke="#222" stroke-width="0.95" />
<line x1="227.75" y1="182.20" x2="305.10" y2="182.20" stroke="#222" stroke-width="0.95" />
<line x1="225.40" y1="179.20" x2="228.20" y2="179.20" stroke="#222" stroke-width="0.75" />
<text x="222.30" y="181.40" font-size="6.1" text-anchor="end" fill="#262626" font-weight="normal"  stroke="#262626" stroke-width="0.16">0</text>
<line x1="225.40" y1="163.20" x2="228.20" y2="163.20" stroke="#222" stroke-width="0.75" />
<text x="222.30" y="165.40" font-size="6.1" text-anchor="end" fill="#262626" font-weight="normal"  stroke="#262626" stroke-width="0.16">10</text>
<line x1="225.40" y1="147.20" x2="228.20" y2="147.20" stroke="#222" stroke-width="0.75" />
<text x="222.30" y="149.40" font-size="6.1" text-anchor="end" fill="#262626" font-weight="normal"  stroke="#262626" stroke-width="0.16">20</text>
<line x1="225.40" y1="131.20" x2="228.20" y2="131.20" stroke="#222" stroke-width="0.75" />
<text x="222.30" y="133.40" font-size="6.1" text-anchor="end" fill="#262626" font-weight="normal"  stroke="#262626" stroke-width="0.16">30</text>
<line x1="239.70" y1="182.20" x2="239.70" y2="184.50" stroke="#222" stroke-width="0.75" />
<text x="239.70" y="193.35" font-size="6.1" text-anchor="middle" fill="#262626" font-weight="normal"  stroke="#262626" stroke-width="0.16">0.3</text>
<line x1="265.75" y1="182.20" x2="265.75" y2="184.50" stroke="#222" stroke-width="0.75" />
<text x="265.75" y="193.35" font-size="6.1" text-anchor="middle" fill="#262626" font-weight="normal"  stroke="#262626" stroke-width="0.16">0.4</text>
<line x1="291.80" y1="182.20" x2="291.80" y2="184.50" stroke="#222" stroke-width="0.75" />
<text x="291.80" y="193.35" font-size="6.1" text-anchor="middle" fill="#262626" font-weight="normal"  stroke="#262626" stroke-width="0.16">0.5</text>
<text transform="translate(209.6,150.50) rotate(-90)" font-size="7.0" font-weight="bold" text-anchor="middle" fill="#262626" stroke="#262626" stroke-width="0.15" textLength="18.5" lengthAdjust="spacingAndGlyphs">Density</text>
<text x="266.70" y="207.75" font-size="7.9" text-anchor="middle" fill="#1a1a1a" font-weight="normal" >IKZF1</text>
<path d="M237.22 272.40 L237.22 271.33 L237.68 271.33 L237.68 269.15 L238.13 269.15 L238.13 265.93 L238.59 265.93 L238.59 262.06 L239.04 262.06 L239.04 257.34 L239.50 257.34 L239.50 249.89 L239.96 249.89 L239.96 246.97 L240.41 246.97 L240.41 239.69 L240.87 239.69 L240.87 232.35 L241.32 232.35 L241.32 230.72 L241.78 230.72 L241.78 225.11 L242.23 225.11 L242.23 223.12 L242.69 223.12 L242.69 219.00 L243.14 219.00 L243.14 215.76 L243.60 215.76 L243.60 215.76 L244.05 215.76 L244.05 221.00 L244.51 221.00 L244.51 222.82 L244.96 222.82 L244.96 229.68 L245.42 229.68 L245.42 232.56 L245.88 232.56 L245.88 234.26 L246.33 234.26 L246.33 235.66 L246.79 235.66 L246.79 239.79 L247.24 239.79 L247.24 241.56 L247.70 241.56 L247.70 247.37 L248.15 247.37 L248.15 248.86 L248.61 248.86 L248.61 252.67 L249.06 252.67 L249.06 255.03 L249.52 255.03 L249.52 258.18 L249.97 258.18 L249.97 261.22 L250.43 261.22 L250.43 262.56 L250.88 262.56 L250.88 264.14 L251.34 264.14 L251.34 264.71 L251.80 264.71 L251.80 266.17 L252.25 266.17 L252.25 267.48 L252.71 267.48 L252.71 267.77 L253.16 267.77 L253.16 268.86 L253.62 268.86 L253.62 269.16 L254.07 269.16 L254.07 269.78 L254.53 269.78 L254.53 270.22 L254.98 270.22 L254.98 270.37 L255.44 270.37 L255.44 270.91 L255.89 270.91 L255.89 271.26 L256.35 271.26 L256.35 271.52 L256.81 271.52 L256.81 271.81 L257.26 271.81 L257.26 271.88 L257.72 271.88 L257.72 271.86 L258.17 271.86 L258.17 271.91 L258.63 271.91 L258.63 271.93 L259.08 271.93 L259.08 271.99 L259.54 271.99 L259.54 271.97 L259.99 271.97 L259.99 272.03 L260.45 272.03 L260.45 272.40 L260.90 272.40 L260.90 272.40 Z" fill="#a6bbe6" fill-opacity="0.95" stroke="#7c98d4" stroke-width="0.45" stroke-opacity="0.85"/>
<path d="M259.99 272.40 L259.99 271.34 L260.45 271.34 L260.45 269.28 L260.90 269.28 L260.90 267.12 L261.36 267.12 L261.36 265.40 L261.81 265.40 L261.81 262.77 L262.27 262.77 L262.27 260.13 L262.73 260.13 L262.73 257.30 L263.18 257.30 L263.18 255.37 L263.64 255.37 L263.64 252.01 L264.09 252.01 L264.09 248.18 L264.55 248.18 L264.55 247.72 L265.00 247.72 L265.00 246.08 L265.46 246.08 L265.46 245.96 L265.91 245.96 L265.91 245.13 L266.37 245.13 L266.37 244.98 L266.82 244.98 L266.82 245.18 L267.28 245.18 L267.28 245.08 L267.73 245.08 L267.73 243.60 L268.19 243.60 L268.19 243.20 L268.65 243.20 L268.65 240.29 L269.10 240.29 L269.10 238.80 L269.56 238.80 L269.56 239.03 L270.01 239.03 L270.01 238.01 L270.47 238.01 L270.47 238.47 L270.92 238.47 L270.92 234.26 L271.38 234.26 L271.38 234.26 L271.83 234.26 L271.83 235.71 L272.29 235.71 L272.29 239.20 L272.74 239.20 L272.74 240.55 L273.20 240.55 L273.20 241.50 L273.65 241.50 L273.65 242.84 L274.11 242.84 L274.11 244.13 L274.57 244.13 L274.57 244.56 L275.02 244.56 L275.02 245.13 L275.48 245.13 L275.48 247.63 L275.93 247.63 L275.93 248.37 L276.39 248.37 L276.39 248.94 L276.84 248.94 L276.84 250.72 L277.30 250.72 L277.30 252.67 L277.75 252.67 L277.75 253.43 L278.21 253.43 L278.21 254.77 L278.66 254.77 L278.66 257.07 L279.12 257.07 L279.12 257.15 L279.58 257.15 L279.58 258.10 L280.03 258.10 L280.03 259.22 L280.49 259.22 L280.49 260.77 L280.94 260.77 L280.94 262.41 L281.40 262.41 L281.40 263.25 L281.85 263.25 L281.85 263.90 L282.31 263.90 L282.31 264.12 L282.76 264.12 L282.76 265.74 L283.22 265.74 L283.22 266.73 L283.67 266.73 L283.67 267.50 L284.13 267.50 L284.13 268.90 L284.58 268.90 L284.58 269.28 L285.04 269.28 L285.04 269.70 L285.50 269.70 L285.50 270.18 L285.95 270.18 L285.95 270.42 L286.41 270.42 L286.41 270.76 L286.86 270.76 L286.86 271.02 L287.32 271.02 L287.32 271.11 L287.77 271.11 L287.77 271.19 L288.23 271.19 L288.23 271.34 L288.68 271.34 L288.68 271.38 L289.14 271.38 L289.14 271.42 L289.59 271.42 L289.59 271.45 L290.05 271.45 L290.05 271.48 L290.50 271.48 L290.50 271.46 L290.96 271.46 L290.96 271.55 L291.42 271.55 L291.42 271.52 L291.87 271.52 L291.87 271.55 L292.33 271.55 L292.33 271.54 L292.78 271.54 L292.78 271.60 L293.24 271.60 L293.24 271.55 L293.69 271.55 L293.69 271.63 L294.15 271.63 L294.15 271.64 L294.60 271.64 L294.60 271.59 L295.06 271.59 L295.06 271.59 L295.51 271.59 L295.51 271.65 L295.97 271.65 L295.97 271.67 L296.42 271.67 L296.42 271.70 L296.88 271.70 L296.88 271.71 L297.34 271.71 L297.34 271.69 L297.79 271.69 L297.79 271.74 L298.25 271.74 L298.25 271.76 L298.70 271.76 L298.70 271.75 L299.16 271.75 L299.16 271.79 L299.61 271.79 L299.61 271.76 L300.07 271.76 L300.07 271.76 L300.52 271.76 L300.52 271.78 L300.98 271.78 L300.98 271.82 L301.43 271.82 L301.43 271.92 L301.89 271.92 L301.89 272.40 L302.35 272.40 L302.35 272.40 Z" fill="#efa4aa" fill-opacity="0.95" stroke="#dc7c86" stroke-width="0.45" stroke-opacity="0.85"/>
<line x1="228.20" y1="212.90" x2="228.20" y2="275.15" stroke="#222" stroke-width="0.95" />
<line x1="227.75" y1="274.70" x2="303.10" y2="274.70" stroke="#222" stroke-width="0.95" />
<line x1="225.40" y1="272.40" x2="228.20" y2="272.40" stroke="#222" stroke-width="0.75" />
<text x="222.30" y="274.60" font-size="6.1" text-anchor="end" fill="#262626" font-weight="normal"  stroke="#262626" stroke-width="0.16">0</text>
<line x1="225.40" y1="253.33" x2="228.20" y2="253.33" stroke="#222" stroke-width="0.75" />
<text x="222.30" y="255.53" font-size="6.1" text-anchor="end" fill="#262626" font-weight="normal"  stroke="#262626" stroke-width="0.16">10</text>
<line x1="225.40" y1="234.26" x2="228.20" y2="234.26" stroke="#222" stroke-width="0.75" />
<text x="222.30" y="236.46" font-size="6.1" text-anchor="end" fill="#262626" font-weight="normal"  stroke="#262626" stroke-width="0.16">20</text>
<line x1="225.40" y1="215.19" x2="228.20" y2="215.19" stroke="#222" stroke-width="0.75" />
<text x="222.30" y="217.39" font-size="6.1" text-anchor="end" fill="#262626" font-weight="normal"  stroke="#262626" stroke-width="0.16">30</text>
<line x1="241.30" y1="274.70" x2="241.30" y2="277.00" stroke="#222" stroke-width="0.75" />
<text x="241.30" y="285.85" font-size="6.1" text-anchor="middle" fill="#262626" font-weight="normal"  stroke="#262626" stroke-width="0.16">0.3</text>
<line x1="261.15" y1="274.70" x2="261.15" y2="277.00" stroke="#222" stroke-width="0.75" />
<text x="261.15" y="285.85" font-size="6.1" text-anchor="middle" fill="#262626" font-weight="normal"  stroke="#262626" stroke-width="0.16">0.4</text>
<line x1="281.00" y1="274.70" x2="281.00" y2="277.00" stroke="#222" stroke-width="0.75" />
<text x="281.00" y="285.85" font-size="6.1" text-anchor="middle" fill="#262626" font-weight="normal"  stroke="#262626" stroke-width="0.16">0.5</text>
<line x1="300.85" y1="274.70" x2="300.85" y2="277.00" stroke="#222" stroke-width="0.75" />
<text x="300.85" y="285.85" font-size="6.1" text-anchor="middle" fill="#262626" font-weight="normal"  stroke="#262626" stroke-width="0.16">0.6</text>
<text transform="translate(209.6,242.80) rotate(-90)" font-size="7.0" font-weight="bold" text-anchor="middle" fill="#262626" stroke="#262626" stroke-width="0.15" textLength="18.5" lengthAdjust="spacingAndGlyphs">Density</text>
<text x="266.70" y="298.25" font-size="7.9" text-anchor="middle" fill="#1a1a1a" font-weight="normal" >MEF2C</text>
<path d="M231.53 361.00 L231.53 357.93 L231.89 357.93 L231.89 351.95 L232.24 351.95 L232.24 343.80 L232.59 343.80 L232.59 335.62 L232.94 335.62 L232.94 325.21 L233.29 325.21 L233.29 317.12 L233.64 317.12 L233.64 313.50 L233.99 313.50 L233.99 306.50 L234.34 306.50 L234.34 303.77 L234.69 303.77 L234.69 312.78 L235.04 312.78 L235.04 317.12 L235.40 317.12 L235.40 326.19 L235.75 326.19 L235.75 327.18 L236.10 327.18 L236.10 330.29 L236.45 330.29 L236.45 330.10 L236.80 330.10 L236.80 332.29 L237.15 332.29 L237.15 334.32 L237.50 334.32 L237.50 333.91 L237.85 333.91 L237.85 335.69 L238.20 335.69 L238.20 340.13 L238.55 340.13 L238.55 339.88 L238.91 339.88 L238.91 342.36 L239.26 342.36 L239.26 344.66 L239.61 344.66 L239.61 346.63 L239.96 346.63 L239.96 347.62 L240.31 347.62 L240.31 349.60 L240.66 349.60 L240.66 350.97 L241.01 350.97 L241.01 352.68 L241.36 352.68 L241.36 354.62 L241.71 354.62 L241.71 355.41 L242.06 355.41 L242.06 356.62 L242.42 356.62 L242.42 357.96 L242.77 357.96 L242.77 359.25 L243.12 359.25 L243.12 359.56 L243.47 359.56 L243.47 359.77 L243.82 359.77 L243.82 359.95 L244.17 359.95 L244.17 359.98 L244.52 359.98 L244.52 360.06 L244.87 360.06 L244.87 360.05 L245.22 360.05 L245.22 360.00 L245.57 360.00 L245.57 360.07 L245.93 360.07 L245.93 360.05 L246.28 360.05 L246.28 360.07 L246.63 360.07 L246.63 360.12 L246.98 360.12 L246.98 360.06 L247.33 360.06 L247.33 360.04 L247.68 360.04 L247.68 360.12 L248.03 360.12 L248.03 360.12 L248.38 360.12 L248.38 360.10 L248.73 360.10 L248.73 360.15 L249.08 360.15 L249.08 360.11 L249.44 360.11 L249.44 360.08 L249.79 360.08 L249.79 360.10 L250.14 360.10 L250.14 360.12 L250.49 360.12 L250.49 360.09 L250.84 360.09 L250.84 360.17 L251.19 360.17 L251.19 360.13 L251.54 360.13 L251.54 360.15 L251.89 360.15 L251.89 360.13 L252.24 360.13 L252.24 360.19 L252.59 360.19 L252.59 360.12 L252.95 360.12 L252.95 360.20 L253.30 360.20 L253.30 360.19 L253.65 360.19 L253.65 360.13 L254.00 360.13 L254.00 360.12 L254.35 360.12 L254.35 360.18 L254.70 360.18 L254.70 360.19 L255.05 360.19 L255.05 360.21 L255.40 360.21 L255.40 360.21 L255.75 360.21 L255.75 360.18 L256.10 360.18 L256.10 360.23 L256.46 360.23 L256.46 360.24 L256.81 360.24 L256.81 360.21 L257.16 360.21 L257.16 360.24 L257.51 360.24 L257.51 360.20 L257.86 360.20 L257.86 360.19 L258.21 360.19 L258.21 360.19 L258.56 360.19 L258.56 360.23 L258.91 360.23 L258.91 360.26 L259.26 360.26 L259.26 360.26 L259.62 360.26 L259.62 360.31 L259.97 360.31 L259.97 360.26 L260.32 360.26 L260.32 360.31 L260.67 360.31 L260.67 360.32 L261.02 360.32 L261.02 360.36 L261.37 360.36 L261.37 360.34 L261.72 360.34 L261.72 360.34 L262.07 360.34 L262.07 360.37 L262.42 360.37 L262.42 360.34 L262.77 360.34 L262.77 360.37 L263.13 360.37 L263.13 360.42 L263.48 360.42 L263.48 360.41 L263.83 360.41 L263.83 360.39 L264.18 360.39 L264.18 360.43 L264.53 360.43 L264.53 360.44 L264.88 360.44 L264.88 360.49 L265.23 360.49 L265.23 360.47 L265.58 360.47 L265.58 360.49 L265.93 360.49 L265.93 360.50 L266.28 360.50 L266.28 360.52 L266.64 360.52 L266.64 360.56 L266.99 360.56 L266.99 360.63 L267.34 360.63 L267.34 360.70 L267.69 360.70 L267.69 360.77 L268.04 360.77 L268.04 360.82 L268.39 360.82 L268.39 360.88 L268.74 360.88 L268.74 360.95 L269.09 360.95 L269.09 361.00 L269.44 361.00 L269.44 361.00 Z" fill="#efa4aa" fill-opacity="0.95" stroke="#dc7c86" stroke-width="0.45" stroke-opacity="0.85"/>
<path d="M266.50 361.00 L266.50 360.85 L266.90 360.85 L266.90 360.55 L267.31 360.55 L267.31 360.24 L267.71 360.24 L267.71 360.00 L268.12 360.00 L268.12 359.82 L268.52 359.82 L268.52 359.59 L268.93 359.59 L268.93 359.57 L269.33 359.57 L269.33 359.20 L269.74 359.20 L269.74 358.77 L270.14 358.77 L270.14 358.56 L270.55 358.56 L270.55 358.01 L270.95 358.01 L270.95 357.77 L271.36 357.77 L271.36 357.02 L271.76 357.02 L271.76 356.58 L272.17 356.58 L272.17 355.80 L272.57 355.80 L272.57 355.19 L272.98 355.19 L272.98 355.09 L273.38 355.09 L273.38 354.35 L273.79 354.35 L273.79 353.72 L274.19 353.72 L274.19 352.44 L274.60 352.44 L274.60 352.00 L275.00 352.00 L275.00 352.21 L275.41 352.21 L275.41 350.81 L275.81 350.81 L275.81 351.23 L276.22 351.23 L276.22 350.25 L276.62 350.25 L276.62 350.70 L277.03 350.70 L277.03 349.79 L277.44 349.79 L277.44 349.60 L277.84 349.60 L277.84 349.20 L278.25 349.20 L278.25 349.19 L278.65 349.19 L278.65 349.92 L279.06 349.92 L279.06 348.37 L279.46 348.37 L279.46 348.81 L279.87 348.81 L279.87 348.80 L280.27 348.80 L280.27 349.21 L280.68 349.21 L280.68 349.12 L281.08 349.12 L281.08 348.52 L281.49 348.52 L281.49 348.36 L281.89 348.36 L281.89 347.30 L282.30 347.30 L282.30 347.29 L282.70 347.29 L282.70 347.74 L283.11 347.74 L283.11 347.58 L283.51 347.58 L283.51 347.78 L283.92 347.78 L283.92 346.30 L284.32 346.30 L284.32 346.96 L284.73 346.96 L284.73 346.59 L285.13 346.59 L285.13 345.79 L285.54 345.79 L285.54 345.72 L285.94 345.72 L285.94 345.19 L286.35 345.19 L286.35 344.62 L286.75 344.62 L286.75 344.55 L287.16 344.55 L287.16 343.99 L287.56 343.99 L287.56 344.23 L287.97 344.23 L287.97 344.11 L288.37 344.11 L288.37 343.84 L288.78 343.84 L288.78 343.84 L289.18 343.84 L289.18 345.03 L289.59 345.03 L289.59 345.89 L289.99 345.89 L289.99 346.97 L290.40 346.97 L290.40 347.74 L290.80 347.74 L290.80 349.07 L291.21 349.07 L291.21 348.54 L291.61 348.54 L291.61 349.96 L292.01 349.96 L292.01 350.08 L292.42 350.08 L292.42 351.37 L292.83 351.37 L292.83 351.91 L293.23 351.91 L293.23 352.92 L293.63 352.92 L293.63 354.41 L294.04 354.41 L294.04 355.20 L294.45 355.20 L294.45 356.16 L294.85 356.16 L294.85 356.97 L295.25 356.97 L295.25 357.64 L295.66 357.64 L295.66 358.13 L296.06 358.13 L296.06 358.65 L296.47 358.65 L296.47 359.53 L296.88 359.53 L296.88 360.05 L297.28 360.05 L297.28 360.38 L297.69 360.38 L297.69 360.67 L298.09 360.67 L298.09 360.95 L298.50 360.95 L298.50 361.00 Z" fill="#a6bbe6" fill-opacity="0.95" stroke="#7c98d4" stroke-width="0.45" stroke-opacity="0.85"/>
<line x1="228.20" y1="303.40" x2="228.20" y2="363.95" stroke="#222" stroke-width="0.95" />
<line x1="227.75" y1="363.50" x2="302.60" y2="363.50" stroke="#222" stroke-width="0.95" />
<line x1="225.40" y1="361.00" x2="228.20" y2="361.00" stroke="#222" stroke-width="0.75" />
<text x="222.30" y="363.20" font-size="6.1" text-anchor="end" fill="#262626" font-weight="normal"  stroke="#262626" stroke-width="0.16">0</text>
<line x1="225.40" y1="341.50" x2="228.20" y2="341.50" stroke="#222" stroke-width="0.75" />
<text x="222.30" y="343.70" font-size="6.1" text-anchor="end" fill="#262626" font-weight="normal"  stroke="#262626" stroke-width="0.16">20</text>
<line x1="225.40" y1="322.00" x2="228.20" y2="322.00" stroke="#222" stroke-width="0.75" />
<text x="222.30" y="324.20" font-size="6.1" text-anchor="end" fill="#262626" font-weight="normal"  stroke="#262626" stroke-width="0.16">40</text>
<line x1="240.50" y1="363.50" x2="240.50" y2="365.80" stroke="#222" stroke-width="0.75" />
<text x="240.50" y="374.65" font-size="6.1" text-anchor="middle" fill="#262626" font-weight="normal"  stroke="#262626" stroke-width="0.16">0.2</text>
<line x1="253.45" y1="363.50" x2="253.45" y2="365.80" stroke="#222" stroke-width="0.75" />
<text x="253.45" y="374.65" font-size="6.1" text-anchor="middle" fill="#262626" font-weight="normal"  stroke="#262626" stroke-width="0.16">0.25</text>
<line x1="266.40" y1="363.50" x2="266.40" y2="365.80" stroke="#222" stroke-width="0.75" />
<text x="266.40" y="374.65" font-size="6.1" text-anchor="middle" fill="#262626" font-weight="normal"  stroke="#262626" stroke-width="0.16">0.3</text>
<line x1="279.35" y1="363.50" x2="279.35" y2="365.80" stroke="#222" stroke-width="0.75" />
<text x="279.35" y="374.65" font-size="6.1" text-anchor="middle" fill="#262626" font-weight="normal"  stroke="#262626" stroke-width="0.16">0.35</text>
<line x1="292.30" y1="363.50" x2="292.30" y2="365.80" stroke="#222" stroke-width="0.75" />
<text x="292.30" y="374.65" font-size="6.1" text-anchor="middle" fill="#262626" font-weight="normal"  stroke="#262626" stroke-width="0.16">0.4</text>
<text transform="translate(209.6,332.45) rotate(-90)" font-size="7.0" font-weight="bold" text-anchor="middle" fill="#262626" stroke="#262626" stroke-width="0.15" textLength="18.5" lengthAdjust="spacingAndGlyphs">Density</text>
<text x="266.70" y="386.85" font-size="7.9" text-anchor="middle" fill="#1a1a1a" font-weight="normal" >MAFB</text>
<path d="M250.00 449.40 L250.00 449.30 L250.41 449.30 L250.41 449.11 L250.82 449.11 L250.82 448.90 L251.23 448.90 L251.23 448.72 L251.64 448.72 L251.64 448.51 L252.05 448.51 L252.05 448.21 L252.46 448.21 L252.46 447.84 L252.87 447.84 L252.87 447.61 L253.28 447.61 L253.28 447.39 L253.69 447.39 L253.69 447.33 L254.10 447.33 L254.10 447.01 L254.51 447.01 L254.51 446.92 L254.92 446.92 L254.92 446.79 L255.33 446.79 L255.33 446.65 L255.74 446.65 L255.74 446.43 L256.15 446.43 L256.15 445.61 L256.56 445.61 L256.56 445.10 L256.97 445.10 L256.97 444.56 L257.38 444.56 L257.38 443.96 L257.79 443.96 L257.79 443.85 L258.20 443.85 L258.20 443.16 L258.61 443.16 L258.61 442.19 L259.02 442.19 L259.02 441.38 L259.43 441.38 L259.43 440.52 L259.84 440.52 L259.84 439.72 L260.25 439.72 L260.25 440.06 L260.66 440.06 L260.66 438.64 L261.07 438.64 L261.07 437.86 L261.48 437.86 L261.48 437.45 L261.89 437.45 L261.89 437.35 L262.30 437.35 L262.30 436.16 L262.71 436.16 L262.71 436.23 L263.12 436.23 L263.12 433.76 L263.53 433.76 L263.53 433.10 L263.94 433.10 L263.94 433.01 L264.35 433.01 L264.35 432.98 L264.76 432.98 L264.76 431.90 L265.17 431.90 L265.17 433.02 L265.58 433.02 L265.58 432.68 L265.99 432.68 L265.99 433.11 L266.40 433.11 L266.40 432.69 L266.81 432.69 L266.81 431.26 L267.22 431.26 L267.22 427.86 L267.63 427.86 L267.63 427.71 L268.04 427.71 L268.04 425.01 L268.45 425.01 L268.45 424.80 L268.86 424.80 L268.86 420.94 L269.27 420.94 L269.27 420.94 L269.68 420.94 L269.68 426.35 L270.09 426.35 L270.09 427.72 L270.50 427.72 L270.50 432.87 L270.91 432.87 L270.91 435.65 L271.32 435.65 L271.32 438.20 L271.73 438.20 L271.73 439.37 L272.14 439.37 L272.14 439.09 L272.55 439.09 L272.55 438.71 L272.96 438.71 L272.96 437.13 L273.37 437.13 L273.37 434.23 L273.78 434.23 L273.78 437.97 L274.19 437.97 L274.19 442.36 L274.60 442.36 L274.60 446.15 L275.01 446.15 L275.01 448.06 L275.42 448.06 L275.42 448.68 L275.83 448.68 L275.83 448.76 L276.24 448.76 L276.24 448.75 L276.65 448.75 L276.65 448.78 L277.06 448.78 L277.06 448.74 L277.47 448.74 L277.47 448.78 L277.88 448.78 L277.88 448.78 L278.29 448.78 L278.29 448.76 L278.70 448.76 L278.70 448.80 L279.11 448.80 L279.11 448.79 L279.52 448.79 L279.52 448.77 L279.93 448.77 L279.93 448.84 L280.34 448.84 L280.34 448.85 L280.75 448.85 L280.75 448.85 L281.16 448.85 L281.16 448.81 L281.57 448.81 L281.57 448.83 L281.98 448.83 L281.98 448.87 L282.39 448.87 L282.39 448.87 L282.80 448.87 L282.80 448.88 L283.21 448.88 L283.21 448.87 L283.62 448.87 L283.62 448.90 L284.03 448.90 L284.03 448.86 L284.44 448.86 L284.44 448.84 L284.85 448.84 L284.85 448.84 L285.26 448.84 L285.26 448.86 L285.67 448.86 L285.67 448.85 L286.08 448.85 L286.08 448.92 L286.49 448.92 L286.49 448.91 L286.90 448.91 L286.90 448.86 L287.31 448.86 L287.31 448.88 L287.72 448.88 L287.72 448.91 L288.13 448.91 L288.13 448.87 L288.54 448.87 L288.54 448.90 L288.95 448.90 L288.95 448.89 L289.36 448.89 L289.36 448.93 L289.77 448.93 L289.77 448.94 L290.18 448.94 L290.18 448.92 L290.59 448.92 L290.59 448.95 L291.00 448.95 L291.00 448.94 L291.41 448.94 L291.41 448.90 L291.82 448.90 L291.82 448.95 L292.23 448.95 L292.23 448.97 L292.64 448.97 L292.64 448.97 L293.05 448.97 L293.05 448.97 L293.46 448.97 L293.46 448.93 L293.87 448.93 L293.87 448.96 L294.28 448.96 L294.28 448.97 L294.69 448.97 L294.69 448.98 L295.10 448.98 L295.10 448.93 L295.51 448.93 L295.51 448.97 L295.92 448.97 L295.92 448.99 L296.33 448.99 L296.33 449.00 L296.74 449.00 L296.74 449.00 L297.15 449.00 L297.15 449.00 L297.56 449.00 L297.56 448.97 L297.97 448.97 L297.97 449.01 L298.38 449.01 L298.38 449.01 L298.79 449.01 L298.79 448.99 L299.20 448.99 L299.20 449.25 L299.61 449.25 L299.61 449.40 Z" fill="#a6bbe6" fill-opacity="0.95" stroke="#7c98d4" stroke-width="0.45" stroke-opacity="0.85"/>
<path d="M232.89 449.40 L232.89 448.52 L233.26 448.52 L233.26 446.79 L233.62 446.79 L233.62 445.18 L233.98 445.18 L233.98 442.95 L234.34 442.95 L234.34 441.85 L234.70 441.85 L234.70 437.70 L235.06 437.70 L235.06 433.30 L235.42 433.30 L235.42 431.32 L235.78 431.32 L235.78 426.55 L236.14 426.55 L236.14 421.65 L236.50 421.65 L236.50 419.04 L236.86 419.04 L236.86 413.04 L237.22 413.04 L237.22 406.45 L237.59 406.45 L237.59 403.98 L237.95 403.98 L237.95 399.39 L238.31 399.39 L238.31 394.25 L238.67 394.25 L238.67 394.25 L239.03 394.25 L239.03 403.24 L239.39 403.24 L239.39 410.64 L239.75 410.64 L239.75 415.52 L240.11 415.52 L240.11 421.22 L240.47 421.22 L240.47 427.61 L240.83 427.61 L240.83 431.96 L241.19 431.96 L241.19 434.15 L241.55 434.15 L241.55 434.61 L241.91 434.61 L241.91 435.15 L242.28 435.15 L242.28 436.93 L242.64 436.93 L242.64 437.92 L243.00 437.92 L243.00 439.36 L243.36 439.36 L243.36 439.79 L243.72 439.79 L243.72 441.33 L244.08 441.33 L244.08 441.96 L244.44 441.96 L244.44 442.52 L244.80 442.52 L244.80 443.45 L245.16 443.45 L245.16 444.60 L245.52 444.60 L245.52 445.70 L245.88 445.70 L245.88 446.46 L246.24 446.46 L246.24 446.98 L246.61 446.98 L246.61 447.47 L246.97 447.47 L246.97 447.88 L247.33 447.88 L247.33 448.49 L247.69 448.49 L247.69 448.63 L248.05 448.63 L248.05 448.86 L248.41 448.86 L248.41 449.11 L248.77 449.11 L248.77 449.31 L249.13 449.31 L249.13 449.40 Z" fill="#efa4aa" fill-opacity="0.95" stroke="#dc7c86" stroke-width="0.45" stroke-opacity="0.85"/>
<line x1="228.20" y1="392.00" x2="228.20" y2="452.65" stroke="#222" stroke-width="0.95" />
<line x1="227.75" y1="452.20" x2="302.30" y2="452.20" stroke="#222" stroke-width="0.95" />
<line x1="225.40" y1="449.40" x2="228.20" y2="449.40" stroke="#222" stroke-width="0.75" />
<text x="222.30" y="451.60" font-size="6.1" text-anchor="end" fill="#262626" font-weight="normal"  stroke="#262626" stroke-width="0.16">0</text>
<line x1="225.40" y1="435.85" x2="228.20" y2="435.85" stroke="#222" stroke-width="0.75" />
<text x="222.30" y="438.05" font-size="6.1" text-anchor="end" fill="#262626" font-weight="normal"  stroke="#262626" stroke-width="0.16">10</text>
<line x1="225.40" y1="422.30" x2="228.20" y2="422.30" stroke="#222" stroke-width="0.75" />
<text x="222.30" y="424.50" font-size="6.1" text-anchor="end" fill="#262626" font-weight="normal"  stroke="#262626" stroke-width="0.16">20</text>
<line x1="225.40" y1="408.75" x2="228.20" y2="408.75" stroke="#222" stroke-width="0.75" />
<text x="222.30" y="410.95" font-size="6.1" text-anchor="end" fill="#262626" font-weight="normal"  stroke="#262626" stroke-width="0.16">30</text>
<line x1="225.40" y1="395.20" x2="228.20" y2="395.20" stroke="#222" stroke-width="0.75" />
<text x="222.30" y="397.40" font-size="6.1" text-anchor="end" fill="#262626" font-weight="normal"  stroke="#262626" stroke-width="0.16">40</text>
<line x1="234.90" y1="452.20" x2="234.90" y2="454.50" stroke="#222" stroke-width="0.75" />
<text x="234.90" y="463.35" font-size="6.1" text-anchor="middle" fill="#262626" font-weight="normal"  stroke="#262626" stroke-width="0.16">0.2</text>
<line x1="251.20" y1="452.20" x2="251.20" y2="454.50" stroke="#222" stroke-width="0.75" />
<text x="251.20" y="463.35" font-size="6.1" text-anchor="middle" fill="#262626" font-weight="normal"  stroke="#262626" stroke-width="0.16">0.3</text>
<line x1="267.50" y1="452.20" x2="267.50" y2="454.50" stroke="#222" stroke-width="0.75" />
<text x="267.50" y="463.35" font-size="6.1" text-anchor="middle" fill="#262626" font-weight="normal"  stroke="#262626" stroke-width="0.16">0.4</text>
<line x1="283.80" y1="452.20" x2="283.80" y2="454.50" stroke="#222" stroke-width="0.75" />
<text x="283.80" y="463.35" font-size="6.1" text-anchor="middle" fill="#262626" font-weight="normal"  stroke="#262626" stroke-width="0.16">0.5</text>
<line x1="300.10" y1="452.20" x2="300.10" y2="454.50" stroke="#222" stroke-width="0.75" />
<text x="300.10" y="463.35" font-size="6.1" text-anchor="middle" fill="#262626" font-weight="normal"  stroke="#262626" stroke-width="0.16">0.6</text>
<text transform="translate(209.6,421.10) rotate(-90)" font-size="7.0" font-weight="bold" text-anchor="middle" fill="#262626" stroke="#262626" stroke-width="0.15" textLength="18.5" lengthAdjust="spacingAndGlyphs">Density</text>
<line x1="200.20" y1="32.00" x2="200.20" y2="180.60" stroke="#444" stroke-width="1.0" />
<line x1="200.20" y1="201.70" x2="200.20" y2="458.30" stroke="#444" stroke-width="1.0" />
<text transform="translate(195.0,106.0) rotate(-90)" font-size="5.9" font-weight="bold" text-anchor="middle" fill="#1a1a1a" textLength="47.5" lengthAdjust="spacingAndGlyphs">Neutrophilic lineage</text>
<text transform="translate(195.0,330.6) rotate(-90)" font-size="5.9" font-weight="bold" text-anchor="middle" fill="#1a1a1a" textLength="44" lengthAdjust="spacingAndGlyphs">Monocytic lineage</text>
<rect x="234.7" y="471.1" width="6.1" height="6.3" fill="#dc7480"/>
<text x="244.10" y="476.20" font-size="6.0" text-anchor="start" fill="#2a2a2a" font-weight="normal" >spCAR</text>
<rect x="269.0" y="471.1" width="6.1" height="6.3" fill="#aabde4"/>
<text x="277.80" y="476.20" font-size="5.85" text-anchor="start" fill="#2a2a2a" font-weight="normal" >spUTD</text>
<line x1="351.00" y1="69.20" x2="359.00" y2="78.60" stroke="#2e2e2e" stroke-width="0.95" />
<line x1="389.80" y1="69.20" x2="383.50" y2="77.00" stroke="#2e2e2e" stroke-width="0.95" />
<ellipse cx="337.6" cy="57.6" rx="17.0" ry="15.5" fill="#e6e6eb" stroke="#383838" stroke-width="1.0"/>
<text x="337.80" y="59.63" font-size="6.5" text-anchor="middle" fill="#262626" font-weight="normal" textLength="29.4" lengthAdjust="spacingAndGlyphs" stroke="#262626" stroke-width="0.12">TNFSF13B</text>
<ellipse cx="399.8" cy="57.5" rx="15.6" ry="15.3" fill="#f5e9bc" stroke="#a89870" stroke-width="1.0"/>
<text x="400.00" y="59.57" font-size="6.2" text-anchor="middle" fill="#262626" font-weight="normal" textLength="25.8" lengthAdjust="spacingAndGlyphs" stroke="#262626" stroke-width="0.12">TNFSF10</text>
<rect x="355.5" y="76.9" width="35.40" height="14.80" rx="7.40" fill="#2b2d6e" stroke="#23255a" stroke-width="0.6"/>
<text x="373.00" y="86.32" font-size="6.2" text-anchor="middle" fill="#dcdcf0" font-weight="normal" textLength="14.2" lengthAdjust="spacingAndGlyphs" stroke="#dcdcf0" stroke-width="0.12">KLF6</text>
<line x1="334.30" y1="131.80" x2="366.30" y2="156.90" stroke="#2e2e2e" stroke-width="0.95" />
<line x1="395.20" y1="132.00" x2="366.30" y2="156.90" stroke="#2e2e2e" stroke-width="0.95" />
<line x1="338.70" y1="182.70" x2="366.30" y2="156.90" stroke="#2e2e2e" stroke-width="0.95" />
<line x1="397.10" y1="183.10" x2="366.30" y2="156.90" stroke="#2e2e2e" stroke-width="0.95" />
<ellipse cx="334.3" cy="131.8" rx="13.5" ry="13.3" fill="#f5e0f0" stroke="#a07098" stroke-width="1.0"/>
<text x="334.25" y="133.37" font-size="6.2" text-anchor="middle" fill="#262626" font-weight="normal" textLength="12.1" lengthAdjust="spacingAndGlyphs" stroke="#262626" stroke-width="0.12">IL18</text>
<ellipse cx="395.2" cy="132.0" rx="14.9" ry="14.4" fill="#f5e9bc" stroke="#a89870" stroke-width="1.0"/>
<text x="395.70" y="133.72" font-size="6.2" text-anchor="middle" fill="#262626" font-weight="normal" textLength="26.4" lengthAdjust="spacingAndGlyphs" stroke="#262626" stroke-width="0.12">TNFSF10</text>
<ellipse cx="338.7" cy="182.7" rx="14.2" ry="14.0" fill="#eaeaf8" stroke="#6c6ca2" stroke-width="1.0"/>
<text x="338.95" y="184.88" font-size="5.8" text-anchor="middle" fill="#262626" font-weight="normal" textLength="19.7" lengthAdjust="spacingAndGlyphs" stroke="#262626" stroke-width="0.12">IL17RA</text>
<ellipse cx="397.1" cy="183.1" rx="14.9" ry="14.4" fill="#f3f5e0" stroke="#a0a270" stroke-width="1.0"/>
<text x="397.45" y="184.95" font-size="6.0" text-anchor="middle" fill="#262626" font-weight="normal" textLength="23.3" lengthAdjust="spacingAndGlyphs" stroke="#262626" stroke-width="0.12">TNF&#945;IP8</text>
<rect x="348.7" y="150.1" width="35.30" height="13.60" rx="6.80" fill="#2b2d6e" stroke="#23255a" stroke-width="0.6"/>
<text x="366.50" y="158.92" font-size="6.2" text-anchor="middle" fill="#dcdcf0" font-weight="normal" textLength="20.6" lengthAdjust="spacingAndGlyphs" stroke="#dcdcf0" stroke-width="0.12">CEBPB</text>
<line x1="334.60" y1="259.00" x2="364.50" y2="231.00" stroke="#2e2e2e" stroke-width="0.95" />
<line x1="395.20" y1="257.50" x2="364.50" y2="231.00" stroke="#2e2e2e" stroke-width="0.95" />
<ellipse cx="334.6" cy="259.0" rx="13.9" ry="13.7" fill="#eaeaf8" stroke="#6c6ca2" stroke-width="1.0"/>
<text x="334.25" y="261.03" font-size="5.8" text-anchor="middle" fill="#262626" font-weight="normal" textLength="19.3" lengthAdjust="spacingAndGlyphs" stroke="#262626" stroke-width="0.12">IL17RA</text>
<ellipse cx="395.2" cy="257.5" rx="14.1" ry="14.1" fill="#f3f5e0" stroke="#a0a270" stroke-width="1.0"/>
<text x="395.30" y="259.40" font-size="6.0" text-anchor="middle" fill="#262626" font-weight="normal" textLength="23.6" lengthAdjust="spacingAndGlyphs" stroke="#262626" stroke-width="0.12">TNF&#945;IP8</text>
<rect x="347.1" y="224.0" width="34.90" height="13.80" rx="6.90" fill="#2b2d6e" stroke="#23255a" stroke-width="0.6"/>
<text x="364.05" y="233.37" font-size="6.2" text-anchor="middle" fill="#dcdcf0" font-weight="normal" textLength="15.7" lengthAdjust="spacingAndGlyphs" stroke="#dcdcf0" stroke-width="0.12">IKZF1</text>
<line x1="333.50" y1="312.40" x2="365.00" y2="336.60" stroke="#2e2e2e" stroke-width="0.95" />
<line x1="392.10" y1="311.90" x2="365.00" y2="336.60" stroke="#2e2e2e" stroke-width="0.95" />
<line x1="337.30" y1="361.40" x2="365.00" y2="336.60" stroke="#2e2e2e" stroke-width="0.95" />
<line x1="394.70" y1="361.40" x2="365.00" y2="336.60" stroke="#2e2e2e" stroke-width="0.95" />
<ellipse cx="333.5" cy="312.4" rx="12.7" ry="11.8" fill="#f5e0f0" stroke="#a07098" stroke-width="1.0"/>
<text x="332.80" y="314.22" font-size="6.2" text-anchor="middle" fill="#262626" font-weight="normal" textLength="12.0" lengthAdjust="spacingAndGlyphs" stroke="#262626" stroke-width="0.12">IL18</text>
<ellipse cx="392.1" cy="311.9" rx="13.9" ry="13.2" fill="#e6e6eb" stroke="#383838" stroke-width="1.0"/>
<text x="391.85" y="313.95" font-size="6.0" text-anchor="middle" fill="#262626" font-weight="normal" textLength="19.7" lengthAdjust="spacingAndGlyphs" stroke="#262626" stroke-width="0.12">IL10RA</text>
<ellipse cx="337.3" cy="361.4" rx="14.1" ry="13.7" fill="#e6e6eb" stroke="#383838" stroke-width="1.0"/>
<text x="335.85" y="364.00" font-size="6.0" text-anchor="middle" fill="#262626" font-weight="normal" textLength="22.7" lengthAdjust="spacingAndGlyphs" stroke="#262626" stroke-width="0.12">IL13RA1</text>
<ellipse cx="394.7" cy="361.4" rx="16.5" ry="15.5" fill="#eaeaf8" stroke="#6c6ca2" stroke-width="1.0"/>
<text x="395.65" y="363.30" font-size="6.0" text-anchor="middle" fill="#262626" font-weight="normal" textLength="30.1" lengthAdjust="spacingAndGlyphs" stroke="#262626" stroke-width="0.12">TNFRSF1B</text>
<rect x="347.1" y="329.8" width="35.80" height="13.60" rx="6.80" fill="#2b2d6e" stroke="#23255a" stroke-width="0.6"/>
<text x="365.20" y="338.87" font-size="6.2" text-anchor="middle" fill="#dcdcf0" font-weight="normal" textLength="20.6" lengthAdjust="spacingAndGlyphs" stroke="#dcdcf0" stroke-width="0.12">MEF2C</text>
<line x1="335.80" y1="424.00" x2="370.40" y2="408.70" stroke="#2e2e2e" stroke-width="0.95" />
<line x1="368.50" y1="438.90" x2="370.40" y2="408.70" stroke="#2e2e2e" stroke-width="0.95" />
<line x1="405.30" y1="427.20" x2="370.40" y2="408.70" stroke="#2e2e2e" stroke-width="0.95" />
<ellipse cx="335.8" cy="424.0" rx="14.5" ry="14.3" fill="#e6e6eb" stroke="#383838" stroke-width="1.0"/>
<text x="335.30" y="426.30" font-size="6.0" text-anchor="middle" fill="#262626" font-weight="normal" textLength="13.4" lengthAdjust="spacingAndGlyphs" stroke="#262626" stroke-width="0.12">TLR4</text>
<ellipse cx="368.0" cy="438.9" rx="11.9" ry="12.2" fill="#e6e6eb" stroke="#383838" stroke-width="1.0"/>
<text x="368.85" y="441.07" font-size="6.2" text-anchor="middle" fill="#262626" font-weight="normal" textLength="15.9" lengthAdjust="spacingAndGlyphs" stroke="#262626" stroke-width="0.12">CCR1</text>
<ellipse cx="405.3" cy="427.2" rx="17.4" ry="15.3" fill="#eaeaf8" stroke="#6c6ca2" stroke-width="1.0"/>
<text x="405.30" y="428.79" font-size="6.4" text-anchor="middle" fill="#262626" font-weight="normal" textLength="30.4" lengthAdjust="spacingAndGlyphs" stroke="#262626" stroke-width="0.12">TNFRSF1B</text>
<rect x="353.0" y="401.3" width="34.90" height="14.80" rx="7.40" fill="#2b2d6e" stroke="#23255a" stroke-width="0.6"/>
<text x="370.00" y="411.02" font-size="6.2" text-anchor="middle" fill="#dcdcf0" font-weight="normal" textLength="16.4" lengthAdjust="spacingAndGlyphs" stroke="#dcdcf0" stroke-width="0.12">MAFB</text>
<line x1="474.90" y1="73.40" x2="463.40" y2="44.50" stroke="#f2eac6" stroke-width="3.0" />
<line x1="474.90" y1="73.40" x2="484.60" y2="44.50" stroke="#f2eac6" stroke-width="3.0" />
<line x1="474.90" y1="73.40" x2="446.20" y2="53.10" stroke="#f2eac6" stroke-width="3.0" />
<line x1="474.90" y1="73.40" x2="502.00" y2="54.80" stroke="#f2eac6" stroke-width="3.0" />
<line x1="474.90" y1="73.40" x2="502.80" y2="72.10" stroke="#f2eac6" stroke-width="3.0" />
<line x1="474.90" y1="73.40" x2="444.90" y2="77.60" stroke="#f2eac6" stroke-width="3.0" />
<line x1="474.90" y1="73.40" x2="503.10" y2="88.70" stroke="#c6c8e8" stroke-width="3.0" />
<line x1="474.90" y1="73.40" x2="459.00" y2="98.60" stroke="#f2eac6" stroke-width="3.0" />
<line x1="474.90" y1="73.40" x2="483.00" y2="102.20" stroke="#c6c8e8" stroke-width="3.0" />
<ellipse cx="463.4" cy="44.5" rx="3.7" ry="3.5" fill="#a2a0b0" stroke="#7a788a" stroke-width="0.5"/>
<ellipse cx="484.6" cy="44.5" rx="3.7" ry="3.5" fill="#a2a0b0" stroke="#7a788a" stroke-width="0.5"/>
<ellipse cx="446.2" cy="53.1" rx="3.7" ry="3.5" fill="#a2a0b0" stroke="#7a788a" stroke-width="0.5"/>
<ellipse cx="502.0" cy="54.8" rx="3.7" ry="3.5" fill="#a2a0b0" stroke="#7a788a" stroke-width="0.5"/>
<ellipse cx="502.8" cy="72.1" rx="3.7" ry="3.5" fill="#a2a0b0" stroke="#7a788a" stroke-width="0.5"/>
<ellipse cx="444.9" cy="77.6" rx="3.7" ry="3.5" fill="#a2a0b0" stroke="#7a788a" stroke-width="0.5"/>
<ellipse cx="503.1" cy="88.7" rx="3.7" ry="3.5" fill="#a2a0b0" stroke="#7a788a" stroke-width="0.5"/>
<ellipse cx="459.0" cy="98.6" rx="3.7" ry="3.5" fill="#a2a0b0" stroke="#7a788a" stroke-width="0.5"/>
<ellipse cx="483.0" cy="102.2" rx="3.7" ry="3.5" fill="#a2a0b0" stroke="#7a788a" stroke-width="0.5"/>
<circle cx="474.9" cy="73.4" r="11.5" fill="#b5bb8e" stroke="#7a7c66" stroke-width="0.7"/>
<text x="474.90" y="76.14" font-size="7.4" text-anchor="middle" fill="#151515" font-weight="normal" stroke="#151515" stroke-width="0.1">KLF6</text>
<text x="463.40" y="45.95" font-size="4.0" text-anchor="middle" fill="#333" font-weight="normal"  stroke="#333" stroke-width="0.06">SLC2A2</text>
<text x="484.60" y="45.95" font-size="4.0" text-anchor="middle" fill="#333" font-weight="normal"  stroke="#333" stroke-width="0.06">MAP3K38</text>
<text x="446.20" y="54.55" font-size="4.0" text-anchor="middle" fill="#333" font-weight="normal"  stroke="#333" stroke-width="0.06">TOP2B1</text>
<text x="502.00" y="56.25" font-size="4.0" text-anchor="middle" fill="#333" font-weight="normal"  stroke="#333" stroke-width="0.06">CDKN1A1</text>
<text x="502.80" y="73.55" font-size="4.0" text-anchor="middle" fill="#333" font-weight="normal"  stroke="#333" stroke-width="0.06">NEO</text>
<text x="444.90" y="79.05" font-size="4.0" text-anchor="middle" fill="#333" font-weight="normal"  stroke="#333" stroke-width="0.06">ARC1B</text>
<text x="503.10" y="90.15" font-size="4.0" text-anchor="middle" fill="#333" font-weight="normal"  stroke="#333" stroke-width="0.06">TNFAIP3</text>
<text x="459.00" y="100.05" font-size="4.0" text-anchor="middle" fill="#333" font-weight="normal"  stroke="#333" stroke-width="0.06">SERINC1</text>
<text x="483.00" y="103.65" font-size="4.0" text-anchor="middle" fill="#333" font-weight="normal"  stroke="#333" stroke-width="0.06">VDR</text>
<line x1="475.00" y1="161.90" x2="470.90" y2="131.90" stroke="#f2eac6" stroke-width="2.1" />
<line x1="475.00" y1="161.90" x2="446.70" y2="147.70" stroke="#f2eac6" stroke-width="2.1" />
<line x1="475.00" y1="161.90" x2="500.60" y2="142.50" stroke="#f2eac6" stroke-width="2.1" />
<line x1="475.00" y1="161.90" x2="502.50" y2="172.30" stroke="#f2eac6" stroke-width="2.1" />
<line x1="475.00" y1="161.90" x2="447.70" y2="177.30" stroke="#c6c8e8" stroke-width="2.1" />
<line x1="475.00" y1="161.90" x2="476.10" y2="189.00" stroke="#f2eac6" stroke-width="2.1" />
<ellipse cx="470.9" cy="131.9" rx="3.7" ry="3.5" fill="#a2a0b0" stroke="#7a788a" stroke-width="0.5"/>
<ellipse cx="446.7" cy="147.7" rx="3.7" ry="3.5" fill="#a2a0b0" stroke="#7a788a" stroke-width="0.5"/>
<ellipse cx="500.6" cy="142.5" rx="3.7" ry="3.5" fill="#a2a0b0" stroke="#7a788a" stroke-width="0.5"/>
<ellipse cx="502.5" cy="172.3" rx="3.7" ry="3.5" fill="#a2a0b0" stroke="#7a788a" stroke-width="0.5"/>
<ellipse cx="447.7" cy="177.3" rx="3.7" ry="3.5" fill="#a2a0b0" stroke="#7a788a" stroke-width="0.5"/>
<ellipse cx="476.1" cy="189.0" rx="3.7" ry="3.5" fill="#a2a0b0" stroke="#7a788a" stroke-width="0.5"/>
<circle cx="475.0" cy="161.9" r="11.5" fill="#b5bb8e" stroke="#7a7c66" stroke-width="0.7"/>
<text x="475.00" y="164.75" font-size="7.7" text-anchor="middle" fill="#151515" font-weight="normal" stroke="#151515" stroke-width="0.1">CEBPB</text>
<text x="470.90" y="133.35" font-size="4.0" text-anchor="middle" fill="#333" font-weight="normal"  stroke="#333" stroke-width="0.06">NDUFB9</text>
<text x="446.70" y="149.15" font-size="4.0" text-anchor="middle" fill="#333" font-weight="normal"  stroke="#333" stroke-width="0.06">NDUFB3</text>
<text x="500.60" y="143.95" font-size="4.0" text-anchor="middle" fill="#333" font-weight="normal"  stroke="#333" stroke-width="0.06">GNB</text>
<text x="502.50" y="173.75" font-size="4.0" text-anchor="middle" fill="#333" font-weight="normal"  stroke="#333" stroke-width="0.06">LEFTA</text>
<text x="447.70" y="178.75" font-size="4.0" text-anchor="middle" fill="#333" font-weight="normal"  stroke="#333" stroke-width="0.06">IL18</text>
<text x="476.10" y="190.45" font-size="4.0" text-anchor="middle" fill="#333" font-weight="normal"  stroke="#333" stroke-width="0.06">TNFSF10</text>
<line x1="476.50" y1="247.40" x2="461.60" y2="219.50" stroke="#f2eac6" stroke-width="3.0" />
<line x1="476.50" y1="247.40" x2="479.30" y2="218.60" stroke="#f2eac6" stroke-width="3.0" />
<line x1="476.50" y1="247.40" x2="497.30" y2="220.40" stroke="#f2eac6" stroke-width="3.0" />
<line x1="476.50" y1="247.40" x2="447.70" y2="237.20" stroke="#f2eac6" stroke-width="3.0" />
<line x1="476.50" y1="247.40" x2="505.30" y2="238.70" stroke="#f2eac6" stroke-width="3.0" />
<line x1="476.50" y1="247.40" x2="447.70" y2="255.80" stroke="#f2eac6" stroke-width="3.0" />
<line x1="476.50" y1="247.40" x2="505.30" y2="256.70" stroke="#f2eac6" stroke-width="3.0" />
<line x1="476.50" y1="247.40" x2="455.70" y2="273.40" stroke="#f2eac6" stroke-width="3.0" />
<line x1="476.50" y1="247.40" x2="473.70" y2="276.20" stroke="#f2eac6" stroke-width="3.0" />
<line x1="476.50" y1="247.40" x2="491.30" y2="275.30" stroke="#f2eac6" stroke-width="3.0" />
<ellipse cx="461.6" cy="219.5" rx="3.7" ry="3.5" fill="#a2a0b0" stroke="#7a788a" stroke-width="0.5"/>
<ellipse cx="479.3" cy="218.6" rx="3.7" ry="3.5" fill="#a2a0b0" stroke="#7a788a" stroke-width="0.5"/>
<ellipse cx="497.3" cy="220.4" rx="3.7" ry="3.5" fill="#a2a0b0" stroke="#7a788a" stroke-width="0.5"/>
<ellipse cx="447.7" cy="237.2" rx="3.7" ry="3.5" fill="#a2a0b0" stroke="#7a788a" stroke-width="0.5"/>
<ellipse cx="505.3" cy="238.7" rx="3.7" ry="3.5" fill="#a2a0b0" stroke="#7a788a" stroke-width="0.5"/>
<ellipse cx="447.7" cy="255.8" rx="3.7" ry="3.5" fill="#a2a0b0" stroke="#7a788a" stroke-width="0.5"/>
<ellipse cx="505.3" cy="256.7" rx="3.7" ry="3.5" fill="#a2a0b0" stroke="#7a788a" stroke-width="0.5"/>
<ellipse cx="455.7" cy="273.4" rx="3.7" ry="3.5" fill="#a2a0b0" stroke="#7a788a" stroke-width="0.5"/>
<ellipse cx="473.7" cy="276.2" rx="3.7" ry="3.5" fill="#a2a0b0" stroke="#7a788a" stroke-width="0.5"/>
<ellipse cx="491.3" cy="275.3" rx="3.7" ry="3.5" fill="#a2a0b0" stroke="#7a788a" stroke-width="0.5"/>
<circle cx="476.5" cy="247.4" r="11.1" fill="#b5bb8e" stroke="#7a7c66" stroke-width="0.7"/>
<text x="476.50" y="250.21" font-size="7.6" text-anchor="middle" fill="#151515" font-weight="normal" stroke="#151515" stroke-width="0.1">IKZF1</text>
<text x="461.60" y="220.95" font-size="4.0" text-anchor="middle" fill="#333" font-weight="normal"  stroke="#333" stroke-width="0.06">PIK3B</text>
<text x="479.30" y="220.05" font-size="4.0" text-anchor="middle" fill="#333" font-weight="normal"  stroke="#333" stroke-width="0.06">MYH9</text>
<text x="497.30" y="221.85" font-size="4.0" text-anchor="middle" fill="#333" font-weight="normal"  stroke="#333" stroke-width="0.06">PIK3C1</text>
<text x="447.70" y="238.65" font-size="4.0" text-anchor="middle" fill="#333" font-weight="normal"  stroke="#333" stroke-width="0.06">THEMIS</text>
<text x="505.30" y="240.15" font-size="4.0" text-anchor="middle" fill="#333" font-weight="normal"  stroke="#333" stroke-width="0.06">NEDD9</text>
<text x="447.70" y="257.25" font-size="4.0" text-anchor="middle" fill="#333" font-weight="normal"  stroke="#333" stroke-width="0.06">FAM27</text>
<text x="505.30" y="258.15" font-size="4.0" text-anchor="middle" fill="#333" font-weight="normal"  stroke="#333" stroke-width="0.06">MYO1G</text>
<text x="455.70" y="274.85" font-size="4.0" text-anchor="middle" fill="#333" font-weight="normal"  stroke="#333" stroke-width="0.06">TAOK1</text>
<text x="473.70" y="277.65" font-size="4.0" text-anchor="middle" fill="#333" font-weight="normal"  stroke="#333" stroke-width="0.06">IL17RA</text>
<text x="491.30" y="276.75" font-size="4.0" text-anchor="middle" fill="#333" font-weight="normal"  stroke="#333" stroke-width="0.06">CD300A</text>
<line x1="476.70" y1="334.50" x2="468.10" y2="305.80" stroke="#f2eac6" stroke-width="3.0" />
<line x1="476.70" y1="334.50" x2="488.60" y2="306.70" stroke="#f2eac6" stroke-width="3.0" />
<line x1="476.70" y1="334.50" x2="449.10" y2="319.70" stroke="#f2eac6" stroke-width="3.0" />
<line x1="476.70" y1="334.50" x2="503.40" y2="324.40" stroke="#f2eac6" stroke-width="3.0" />
<line x1="476.70" y1="334.50" x2="447.70" y2="338.00" stroke="#f2eac6" stroke-width="3.0" />
<line x1="476.70" y1="334.50" x2="504.30" y2="343.90" stroke="#f2eac6" stroke-width="3.0" />
<line x1="476.70" y1="334.50" x2="450.80" y2="356.50" stroke="#f2eac6" stroke-width="3.0" />
<line x1="476.70" y1="334.50" x2="469.40" y2="362.10" stroke="#f2eac6" stroke-width="3.0" />
<line x1="476.70" y1="334.50" x2="491.30" y2="359.10" stroke="#f2eac6" stroke-width="3.0" />
<ellipse cx="468.1" cy="305.8" rx="3.7" ry="3.5" fill="#a2a0b0" stroke="#7a788a" stroke-width="0.5"/>
<ellipse cx="488.6" cy="306.7" rx="3.7" ry="3.5" fill="#a2a0b0" stroke="#7a788a" stroke-width="0.5"/>
<ellipse cx="449.1" cy="319.7" rx="3.7" ry="3.5" fill="#a2a0b0" stroke="#7a788a" stroke-width="0.5"/>
<ellipse cx="503.4" cy="324.4" rx="3.7" ry="3.5" fill="#a2a0b0" stroke="#7a788a" stroke-width="0.5"/>
<ellipse cx="447.7" cy="338.0" rx="3.7" ry="3.5" fill="#a2a0b0" stroke="#7a788a" stroke-width="0.5"/>
<ellipse cx="504.3" cy="343.9" rx="3.7" ry="3.5" fill="#a2a0b0" stroke="#7a788a" stroke-width="0.5"/>
<ellipse cx="450.8" cy="356.5" rx="3.7" ry="3.5" fill="#a2a0b0" stroke="#7a788a" stroke-width="0.5"/>
<ellipse cx="469.4" cy="362.1" rx="3.7" ry="3.5" fill="#a2a0b0" stroke="#7a788a" stroke-width="0.5"/>
<ellipse cx="491.3" cy="359.1" rx="3.7" ry="3.5" fill="#a2a0b0" stroke="#7a788a" stroke-width="0.5"/>
<circle cx="476.7" cy="334.5" r="11.3" fill="#b5bb8e" stroke="#7a7c66" stroke-width="0.7"/>
<text x="476.70" y="337.24" font-size="7.4" text-anchor="middle" fill="#151515" font-weight="normal" stroke="#151515" stroke-width="0.1">MEF2C</text>
<text x="468.10" y="307.25" font-size="4.0" text-anchor="middle" fill="#333" font-weight="normal"  stroke="#333" stroke-width="0.06">CD2</text>
<text x="488.60" y="308.15" font-size="4.0" text-anchor="middle" fill="#333" font-weight="normal"  stroke="#333" stroke-width="0.06">IL10RA</text>
<text x="449.10" y="321.15" font-size="4.0" text-anchor="middle" fill="#333" font-weight="normal"  stroke="#333" stroke-width="0.06">IL18</text>
<text x="503.40" y="325.85" font-size="4.0" text-anchor="middle" fill="#333" font-weight="normal"  stroke="#333" stroke-width="0.06">LCK</text>
<text x="447.70" y="339.45" font-size="4.0" text-anchor="middle" fill="#333" font-weight="normal"  stroke="#333" stroke-width="0.06">TNFRSF1B</text>
<text x="504.30" y="345.35" font-size="4.0" text-anchor="middle" fill="#333" font-weight="normal"  stroke="#333" stroke-width="0.06">PLEKHO1</text>
<text x="450.80" y="357.95" font-size="4.0" text-anchor="middle" fill="#333" font-weight="normal"  stroke="#333" stroke-width="0.06">CD36</text>
<text x="469.40" y="363.55" font-size="4.0" text-anchor="middle" fill="#333" font-weight="normal"  stroke="#333" stroke-width="0.06">IL13RA1</text>
<text x="491.30" y="360.55" font-size="4.0" text-anchor="middle" fill="#333" font-weight="normal"  stroke="#333" stroke-width="0.06">CREG1</text>
<line x1="475.90" y1="421.20" x2="451.90" y2="395.80" stroke="#f2eac6" stroke-width="3.4" />
<line x1="475.90" y1="421.20" x2="471.30" y2="392.70" stroke="#f2eac6" stroke-width="3.4" />
<line x1="475.90" y1="421.20" x2="487.60" y2="393.20" stroke="#f2eac6" stroke-width="3.4" />
<line x1="475.90" y1="421.20" x2="502.10" y2="405.10" stroke="#f2eac6" stroke-width="3.4" />
<line x1="475.90" y1="421.20" x2="445.80" y2="419.00" stroke="#f2eac6" stroke-width="3.4" />
<line x1="475.90" y1="421.20" x2="504.30" y2="422.40" stroke="#f2eac6" stroke-width="3.4" />
<line x1="475.90" y1="421.20" x2="448.60" y2="440.40" stroke="#f2eac6" stroke-width="3.4" />
<line x1="475.90" y1="421.20" x2="501.60" y2="441.40" stroke="#f2eac6" stroke-width="3.4" />
<line x1="475.90" y1="421.20" x2="475.50" y2="451.20" stroke="#f2eac6" stroke-width="3.4" />
<ellipse cx="451.9" cy="395.8" rx="3.7" ry="3.5" fill="#a2a0b0" stroke="#7a788a" stroke-width="0.5"/>
<ellipse cx="471.3" cy="392.7" rx="3.7" ry="3.5" fill="#a2a0b0" stroke="#7a788a" stroke-width="0.5"/>
<ellipse cx="487.6" cy="393.2" rx="3.7" ry="3.5" fill="#a2a0b0" stroke="#7a788a" stroke-width="0.5"/>
<ellipse cx="502.1" cy="405.1" rx="3.7" ry="3.5" fill="#a2a0b0" stroke="#7a788a" stroke-width="0.5"/>
<ellipse cx="445.8" cy="419.0" rx="3.7" ry="3.5" fill="#a2a0b0" stroke="#7a788a" stroke-width="0.5"/>
<ellipse cx="504.3" cy="422.4" rx="3.7" ry="3.5" fill="#a2a0b0" stroke="#7a788a" stroke-width="0.5"/>
<ellipse cx="448.6" cy="440.4" rx="3.7" ry="3.5" fill="#a2a0b0" stroke="#7a788a" stroke-width="0.5"/>
<ellipse cx="501.6" cy="441.4" rx="3.7" ry="3.5" fill="#a2a0b0" stroke="#7a788a" stroke-width="0.5"/>
<ellipse cx="475.5" cy="451.2" rx="3.7" ry="3.5" fill="#a2a0b0" stroke="#7a788a" stroke-width="0.5"/>
<circle cx="475.9" cy="421.2" r="11.2" fill="#b5bb8e" stroke="#7a7c66" stroke-width="0.7"/>
<text x="475.90" y="424.05" font-size="7.7" text-anchor="middle" fill="#151515" font-weight="normal" stroke="#151515" stroke-width="0.1">MAFB</text>
<text x="451.90" y="397.25" font-size="4.0" text-anchor="middle" fill="#333" font-weight="normal"  stroke="#333" stroke-width="0.06">CD4</text>
<text x="471.30" y="394.15" font-size="4.0" text-anchor="middle" fill="#333" font-weight="normal"  stroke="#333" stroke-width="0.06">TREM1</text>
<text x="487.60" y="394.65" font-size="4.0" text-anchor="middle" fill="#333" font-weight="normal"  stroke="#333" stroke-width="0.06">FCGR1</text>
<text x="502.10" y="406.55" font-size="4.0" text-anchor="middle" fill="#333" font-weight="normal"  stroke="#333" stroke-width="0.06">CD14</text>
<text x="445.80" y="420.45" font-size="4.0" text-anchor="middle" fill="#333" font-weight="normal"  stroke="#333" stroke-width="0.06">LRRC2</text>
<text x="504.30" y="423.85" font-size="4.0" text-anchor="middle" fill="#333" font-weight="normal"  stroke="#333" stroke-width="0.06">HCAR2</text>
<text x="448.60" y="441.85" font-size="4.0" text-anchor="middle" fill="#333" font-weight="normal"  stroke="#333" stroke-width="0.06">CCR1</text>
<text x="501.60" y="442.85" font-size="4.0" text-anchor="middle" fill="#333" font-weight="normal"  stroke="#333" stroke-width="0.06">TLR4</text>
<text x="475.50" y="452.65" font-size="4.0" text-anchor="middle" fill="#333" font-weight="normal"  stroke="#333" stroke-width="0.06">TNFRSF1B</text>
<text x="6.50" y="15.80" font-size="11.4" text-anchor="start" fill="#111" font-weight="bold" >A</text>
<text x="188.50" y="15.80" font-size="11.4" text-anchor="start" fill="#111" font-weight="bold" >B</text>
<text x="320.90" y="15.80" font-size="11.4" text-anchor="start" fill="#111" font-weight="bold" >C</text>
<text x="436.80" y="15.80" font-size="11.4" text-anchor="start" fill="#111" font-weight="bold" >D</text>
<rect x="0.5" y="0.5" width="519" height="483" fill="none" stroke="#676767" stroke-width="1.25"/>
</svg></body></html>
